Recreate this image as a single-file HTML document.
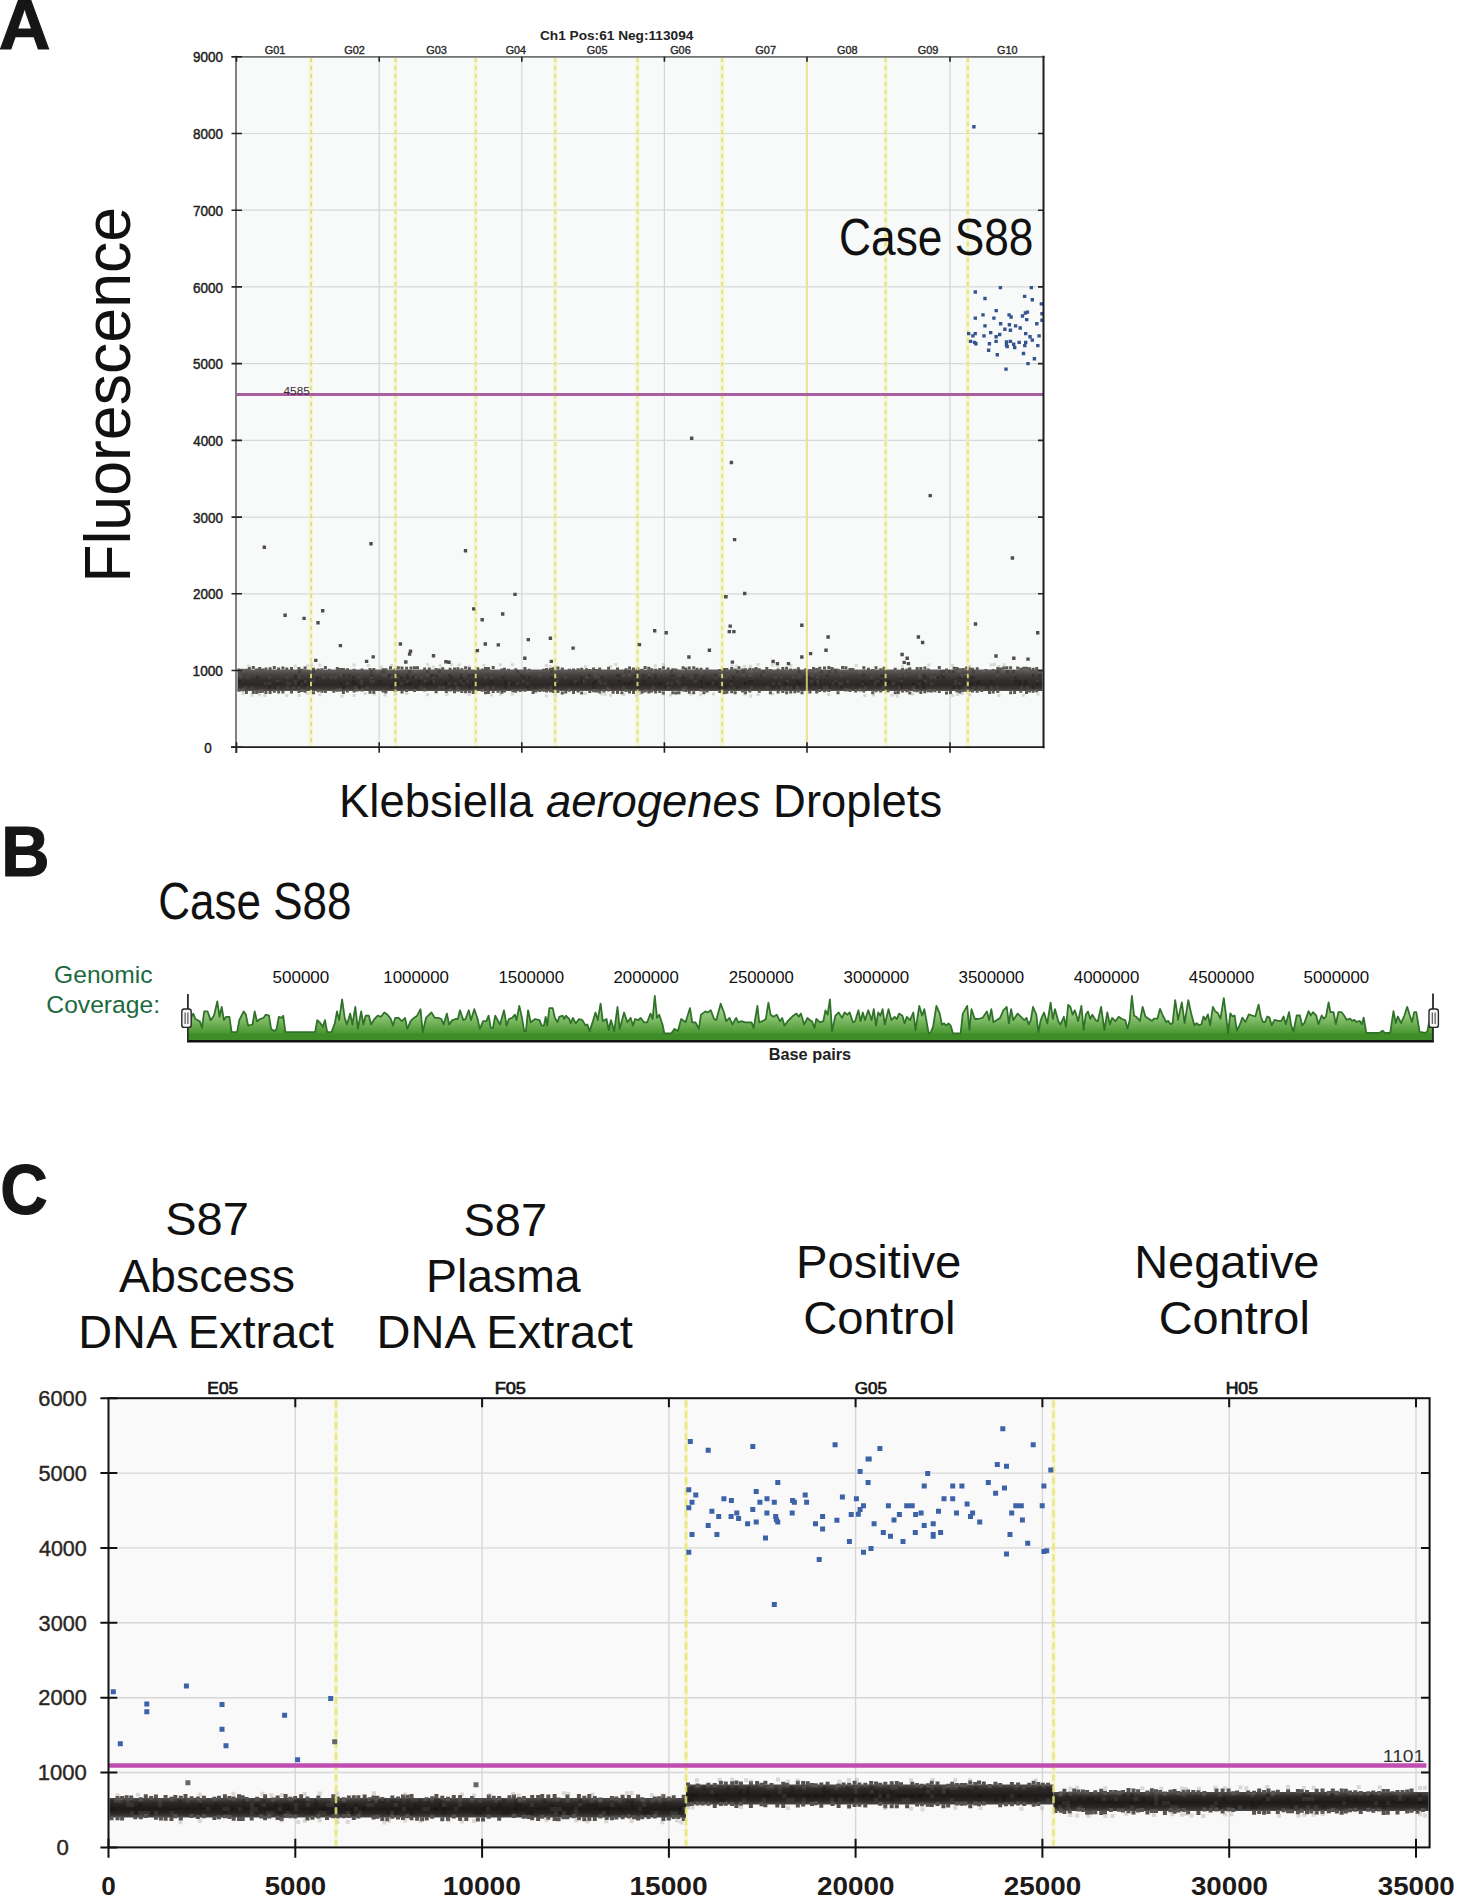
<!DOCTYPE html>
<html><head><meta charset="utf-8"><style>
html,body{margin:0;padding:0;background:#fff;overflow:hidden}
svg{display:block}
text{font-family:"Liberation Sans",sans-serif}
</style></head><body>
<svg width="1457" height="1896" viewBox="0 0 1457 1896" font-family="Liberation Sans, sans-serif">
<defs><linearGradient id="gA" x1="0" y1="0" x2="0" y2="1">
<stop offset="0" stop-color="#625e5c"/><stop offset="0.25" stop-color="#46423f"/>
<stop offset="0.5" stop-color="#332f2d"/><stop offset="0.72" stop-color="#2c2826"/>
<stop offset="0.9" stop-color="#3d3937"/><stop offset="1" stop-color="#58544f"/></linearGradient><linearGradient id="gB" x1="0" y1="998" x2="0" y2="1041" gradientUnits="userSpaceOnUse">
<stop offset="0" stop-color="#c4e3b6"/><stop offset="0.45" stop-color="#89c170"/><stop offset="0.8" stop-color="#4c9a33"/><stop offset="1" stop-color="#3a8a25"/></linearGradient><linearGradient id="gC" x1="0" y1="0" x2="0" y2="1">
<stop offset="0" stop-color="#4e4b49"/><stop offset="0.25" stop-color="#2c2a28"/>
<stop offset="0.55" stop-color="#1d1b1a"/><stop offset="0.8" stop-color="#2a2826"/><stop offset="1" stop-color="#4a4745"/></linearGradient></defs>
<rect width="1457" height="1896" fill="#fff"/>
<rect x="236.5" y="56.8" width="807.0" height="690.4000000000001" fill="#f7faf9"/>
<line x1="236.5" x2="1043.5" y1="670.5" y2="670.5" stroke="#d6d9d9" stroke-width="1.2"/>
<line x1="236.5" x2="1043.5" y1="593.8" y2="593.8" stroke="#d6d9d9" stroke-width="1.2"/>
<line x1="236.5" x2="1043.5" y1="517.1" y2="517.1" stroke="#d6d9d9" stroke-width="1.2"/>
<line x1="236.5" x2="1043.5" y1="440.4" y2="440.4" stroke="#d6d9d9" stroke-width="1.2"/>
<line x1="236.5" x2="1043.5" y1="363.6" y2="363.6" stroke="#d6d9d9" stroke-width="1.2"/>
<line x1="236.5" x2="1043.5" y1="286.9" y2="286.9" stroke="#d6d9d9" stroke-width="1.2"/>
<line x1="236.5" x2="1043.5" y1="210.2" y2="210.2" stroke="#d6d9d9" stroke-width="1.2"/>
<line x1="236.5" x2="1043.5" y1="133.5" y2="133.5" stroke="#d6d9d9" stroke-width="1.2"/>
<line x1="379.2" x2="379.2" y1="56.8" y2="747.2" stroke="#d3d6d6" stroke-width="1.2"/>
<line x1="521.8" x2="521.8" y1="56.8" y2="747.2" stroke="#d3d6d6" stroke-width="1.2"/>
<line x1="664.4" x2="664.4" y1="56.8" y2="747.2" stroke="#d3d6d6" stroke-width="1.2"/>
<line x1="807.0" x2="807.0" y1="56.8" y2="747.2" stroke="#d3d6d6" stroke-width="1.2"/>
<line x1="950.0" x2="950.0" y1="56.8" y2="747.2" stroke="#d3d6d6" stroke-width="1.2"/>
<line x1="311.0" x2="311.0" y1="57.8" y2="746.2" stroke="#f6f3b8" stroke-width="4.5" stroke-opacity="0.5"/>
<line x1="395.5" x2="395.5" y1="57.8" y2="746.2" stroke="#f6f3b8" stroke-width="4.5" stroke-opacity="0.5"/>
<line x1="475.7" x2="475.7" y1="57.8" y2="746.2" stroke="#f6f3b8" stroke-width="4.5" stroke-opacity="0.5"/>
<line x1="555.2" x2="555.2" y1="57.8" y2="746.2" stroke="#f6f3b8" stroke-width="4.5" stroke-opacity="0.5"/>
<line x1="637.5" x2="637.5" y1="57.8" y2="746.2" stroke="#f6f3b8" stroke-width="4.5" stroke-opacity="0.5"/>
<line x1="722.1" x2="722.1" y1="57.8" y2="746.2" stroke="#f6f3b8" stroke-width="4.5" stroke-opacity="0.5"/>
<line x1="885.6" x2="885.6" y1="57.8" y2="746.2" stroke="#f6f3b8" stroke-width="4.5" stroke-opacity="0.5"/>
<line x1="967.8" x2="967.8" y1="57.8" y2="746.2" stroke="#f6f3b8" stroke-width="4.5" stroke-opacity="0.5"/>
<rect x="237.5" y="669.5" width="805.0" height="21.5" fill="url(#gA)"/>
<path d="M237.5 668.5h3.0v3.0h-3.0zM237.5 688.7h3.0v3.0h-3.0zM241.3 668.8h3.0v3.0h-3.0zM241.3 688.6h3.0v3.0h-3.0zM244.9 668.7h3.0v3.0h-3.0zM244.9 691.0h3.0v3.0h-3.0zM247.9 667.1h3.0v3.0h-3.0zM251.8 666.1h3.0v3.0h-3.0zM251.8 691.1h3.0v3.0h-3.0zM255.1 668.6h3.0v3.0h-3.0zM255.1 690.9h3.0v3.0h-3.0zM258.2 667.1h3.0v3.0h-3.0zM258.2 690.1h3.0v3.0h-3.0zM261.0 668.4h3.0v3.0h-3.0zM261.0 689.8h3.0v3.0h-3.0zM264.4 667.6h3.0v3.0h-3.0zM264.4 690.9h3.0v3.0h-3.0zM268.6 667.3h3.0v3.0h-3.0zM268.6 691.1h3.0v3.0h-3.0zM272.8 666.1h3.0v3.0h-3.0zM272.8 689.8h3.0v3.0h-3.0zM277.1 667.5h3.0v3.0h-3.0zM277.1 690.5h3.0v3.0h-3.0zM281.4 666.4h3.0v3.0h-3.0zM281.4 690.6h3.0v3.0h-3.0zM285.3 667.6h3.0v3.0h-3.0zM290.0 667.0h3.0v3.0h-3.0zM290.0 690.6h3.0v3.0h-3.0zM297.4 667.0h3.0v3.0h-3.0zM297.4 689.9h3.0v3.0h-3.0zM300.4 668.8h3.0v3.0h-3.0zM300.4 688.9h3.0v3.0h-3.0zM303.6 666.4h3.0v3.0h-3.0zM303.6 689.8h3.0v3.0h-3.0zM312.0 667.8h3.0v3.0h-3.0zM312.0 691.2h3.0v3.0h-3.0zM316.7 668.5h3.0v3.0h-3.0zM316.7 689.2h3.0v3.0h-3.0zM320.4 668.2h3.0v3.0h-3.0zM320.4 689.8h3.0v3.0h-3.0zM323.9 666.1h3.0v3.0h-3.0zM323.9 690.0h3.0v3.0h-3.0zM327.9 668.8h3.0v3.0h-3.0zM332.3 689.7h3.0v3.0h-3.0zM335.8 667.1h3.0v3.0h-3.0zM335.8 688.7h3.0v3.0h-3.0zM338.9 668.0h3.0v3.0h-3.0zM338.9 688.5h3.0v3.0h-3.0zM341.9 667.9h3.0v3.0h-3.0zM341.9 691.1h3.0v3.0h-3.0zM345.9 668.2h3.0v3.0h-3.0zM345.9 689.6h3.0v3.0h-3.0zM352.6 668.7h3.0v3.0h-3.0zM352.6 689.5h3.0v3.0h-3.0zM355.8 688.6h3.0v3.0h-3.0zM360.5 668.6h3.0v3.0h-3.0zM360.5 688.6h3.0v3.0h-3.0zM368.5 667.9h3.0v3.0h-3.0zM368.5 690.8h3.0v3.0h-3.0zM372.3 668.0h3.0v3.0h-3.0zM372.3 690.9h3.0v3.0h-3.0zM381.5 668.3h3.0v3.0h-3.0zM381.5 689.6h3.0v3.0h-3.0zM384.3 668.2h3.0v3.0h-3.0zM384.3 690.6h3.0v3.0h-3.0zM389.0 666.2h3.0v3.0h-3.0zM393.7 668.3h3.0v3.0h-3.0zM393.7 689.1h3.0v3.0h-3.0zM396.8 666.3h3.0v3.0h-3.0zM400.5 666.6h3.0v3.0h-3.0zM400.5 690.5h3.0v3.0h-3.0zM405.1 666.7h3.0v3.0h-3.0zM405.1 689.0h3.0v3.0h-3.0zM409.5 666.6h3.0v3.0h-3.0zM413.0 666.2h3.0v3.0h-3.0zM413.0 689.0h3.0v3.0h-3.0zM416.0 666.3h3.0v3.0h-3.0zM423.1 667.4h3.0v3.0h-3.0zM423.1 688.5h3.0v3.0h-3.0zM427.8 667.4h3.0v3.0h-3.0zM434.6 668.1h3.0v3.0h-3.0zM434.6 690.3h3.0v3.0h-3.0zM437.8 668.6h3.0v3.0h-3.0zM441.2 667.2h3.0v3.0h-3.0zM444.8 690.1h3.0v3.0h-3.0zM448.6 667.7h3.0v3.0h-3.0zM448.6 688.5h3.0v3.0h-3.0zM453.0 667.6h3.0v3.0h-3.0zM453.0 690.2h3.0v3.0h-3.0zM456.4 667.3h3.0v3.0h-3.0zM456.4 688.8h3.0v3.0h-3.0zM460.3 668.2h3.0v3.0h-3.0zM460.3 690.0h3.0v3.0h-3.0zM464.1 666.3h3.0v3.0h-3.0zM464.1 690.3h3.0v3.0h-3.0zM467.9 666.9h3.0v3.0h-3.0zM467.9 690.1h3.0v3.0h-3.0zM471.6 691.1h3.0v3.0h-3.0zM476.3 667.3h3.0v3.0h-3.0zM480.8 668.6h3.0v3.0h-3.0zM480.8 688.7h3.0v3.0h-3.0zM484.0 667.0h3.0v3.0h-3.0zM484.0 691.2h3.0v3.0h-3.0zM487.0 667.0h3.0v3.0h-3.0zM487.0 691.1h3.0v3.0h-3.0zM491.7 666.1h3.0v3.0h-3.0zM491.7 690.0h3.0v3.0h-3.0zM496.5 689.8h3.0v3.0h-3.0zM500.3 668.4h3.0v3.0h-3.0zM500.3 690.7h3.0v3.0h-3.0zM503.0 667.7h3.0v3.0h-3.0zM503.0 689.5h3.0v3.0h-3.0zM507.0 668.8h3.0v3.0h-3.0zM511.4 689.3h3.0v3.0h-3.0zM514.2 668.2h3.0v3.0h-3.0zM514.2 689.8h3.0v3.0h-3.0zM518.8 688.9h3.0v3.0h-3.0zM523.4 666.9h3.0v3.0h-3.0zM523.4 688.7h3.0v3.0h-3.0zM527.6 668.8h3.0v3.0h-3.0zM531.6 691.1h3.0v3.0h-3.0zM534.4 689.5h3.0v3.0h-3.0zM538.3 688.9h3.0v3.0h-3.0zM542.1 668.7h3.0v3.0h-3.0zM542.1 688.7h3.0v3.0h-3.0zM545.2 668.1h3.0v3.0h-3.0zM545.2 689.4h3.0v3.0h-3.0zM549.0 668.0h3.0v3.0h-3.0zM549.0 689.3h3.0v3.0h-3.0zM551.7 667.3h3.0v3.0h-3.0zM551.7 689.9h3.0v3.0h-3.0zM556.4 666.5h3.0v3.0h-3.0zM556.4 690.0h3.0v3.0h-3.0zM560.8 667.5h3.0v3.0h-3.0zM560.8 691.4h3.0v3.0h-3.0zM564.2 690.4h3.0v3.0h-3.0zM567.8 668.8h3.0v3.0h-3.0zM567.8 688.7h3.0v3.0h-3.0zM572.0 668.5h3.0v3.0h-3.0zM572.0 691.0h3.0v3.0h-3.0zM576.6 668.2h3.0v3.0h-3.0zM576.6 689.4h3.0v3.0h-3.0zM580.2 667.7h3.0v3.0h-3.0zM580.2 691.4h3.0v3.0h-3.0zM585.0 668.3h3.0v3.0h-3.0zM588.3 669.0h3.0v3.0h-3.0zM588.3 689.9h3.0v3.0h-3.0zM592.1 667.5h3.0v3.0h-3.0zM592.1 689.3h3.0v3.0h-3.0zM595.0 668.9h3.0v3.0h-3.0zM595.0 689.4h3.0v3.0h-3.0zM598.2 667.4h3.0v3.0h-3.0zM598.2 690.5h3.0v3.0h-3.0zM602.4 689.5h3.0v3.0h-3.0zM607.1 666.8h3.0v3.0h-3.0zM607.1 688.6h3.0v3.0h-3.0zM611.6 690.7h3.0v3.0h-3.0zM616.0 667.4h3.0v3.0h-3.0zM616.0 691.0h3.0v3.0h-3.0zM620.4 691.2h3.0v3.0h-3.0zM624.5 668.3h3.0v3.0h-3.0zM624.5 688.9h3.0v3.0h-3.0zM628.0 666.5h3.0v3.0h-3.0zM628.0 690.4h3.0v3.0h-3.0zM632.0 667.5h3.0v3.0h-3.0zM632.0 690.9h3.0v3.0h-3.0zM636.3 667.4h3.0v3.0h-3.0zM636.3 688.7h3.0v3.0h-3.0zM640.5 668.8h3.0v3.0h-3.0zM640.5 690.7h3.0v3.0h-3.0zM643.6 666.1h3.0v3.0h-3.0zM643.6 689.6h3.0v3.0h-3.0zM647.3 666.7h3.0v3.0h-3.0zM647.3 690.4h3.0v3.0h-3.0zM650.2 668.2h3.0v3.0h-3.0zM650.2 689.4h3.0v3.0h-3.0zM654.1 668.8h3.0v3.0h-3.0zM654.1 690.5h3.0v3.0h-3.0zM658.3 668.1h3.0v3.0h-3.0zM658.3 689.9h3.0v3.0h-3.0zM661.9 666.3h3.0v3.0h-3.0zM661.9 691.4h3.0v3.0h-3.0zM666.6 667.6h3.0v3.0h-3.0zM671.3 668.2h3.0v3.0h-3.0zM671.3 691.3h3.0v3.0h-3.0zM674.5 668.6h3.0v3.0h-3.0zM674.5 691.4h3.0v3.0h-3.0zM677.5 691.2h3.0v3.0h-3.0zM681.6 666.3h3.0v3.0h-3.0zM681.6 688.6h3.0v3.0h-3.0zM684.3 667.6h3.0v3.0h-3.0zM684.3 688.9h3.0v3.0h-3.0zM687.8 666.5h3.0v3.0h-3.0zM687.8 690.8h3.0v3.0h-3.0zM692.2 666.2h3.0v3.0h-3.0zM692.2 691.2h3.0v3.0h-3.0zM695.5 667.8h3.0v3.0h-3.0zM699.5 667.7h3.0v3.0h-3.0zM699.5 688.6h3.0v3.0h-3.0zM702.4 691.3h3.0v3.0h-3.0zM705.6 667.5h3.0v3.0h-3.0zM705.6 689.6h3.0v3.0h-3.0zM718.2 668.9h3.0v3.0h-3.0zM718.2 689.9h3.0v3.0h-3.0zM722.5 668.1h3.0v3.0h-3.0zM722.5 691.3h3.0v3.0h-3.0zM725.4 668.0h3.0v3.0h-3.0zM725.4 690.7h3.0v3.0h-3.0zM730.2 667.0h3.0v3.0h-3.0zM730.2 690.2h3.0v3.0h-3.0zM733.7 668.5h3.0v3.0h-3.0zM733.7 691.2h3.0v3.0h-3.0zM737.5 666.3h3.0v3.0h-3.0zM741.1 668.4h3.0v3.0h-3.0zM741.1 689.5h3.0v3.0h-3.0zM744.0 668.2h3.0v3.0h-3.0zM744.0 691.2h3.0v3.0h-3.0zM748.3 667.8h3.0v3.0h-3.0zM748.3 689.6h3.0v3.0h-3.0zM751.7 668.2h3.0v3.0h-3.0zM754.6 667.1h3.0v3.0h-3.0zM757.8 668.3h3.0v3.0h-3.0zM757.8 689.8h3.0v3.0h-3.0zM765.3 666.9h3.0v3.0h-3.0zM768.9 669.0h3.0v3.0h-3.0zM768.9 691.3h3.0v3.0h-3.0zM776.6 668.5h3.0v3.0h-3.0zM776.6 690.5h3.0v3.0h-3.0zM781.3 667.1h3.0v3.0h-3.0zM781.3 689.9h3.0v3.0h-3.0zM785.1 666.7h3.0v3.0h-3.0zM785.1 691.3h3.0v3.0h-3.0zM789.2 668.6h3.0v3.0h-3.0zM789.2 690.4h3.0v3.0h-3.0zM793.4 668.8h3.0v3.0h-3.0zM793.4 690.2h3.0v3.0h-3.0zM796.9 667.2h3.0v3.0h-3.0zM796.9 689.4h3.0v3.0h-3.0zM800.5 691.2h3.0v3.0h-3.0zM804.2 668.3h3.0v3.0h-3.0zM808.4 668.9h3.0v3.0h-3.0zM808.4 690.5h3.0v3.0h-3.0zM812.0 667.0h3.0v3.0h-3.0zM815.2 668.0h3.0v3.0h-3.0zM815.2 690.5h3.0v3.0h-3.0zM818.3 666.8h3.0v3.0h-3.0zM818.3 689.1h3.0v3.0h-3.0zM823.0 666.5h3.0v3.0h-3.0zM823.0 689.2h3.0v3.0h-3.0zM827.3 666.1h3.0v3.0h-3.0zM827.3 689.1h3.0v3.0h-3.0zM830.5 667.0h3.0v3.0h-3.0zM833.5 668.4h3.0v3.0h-3.0zM836.5 668.8h3.0v3.0h-3.0zM836.5 691.2h3.0v3.0h-3.0zM841.1 666.0h3.0v3.0h-3.0zM844.4 666.2h3.0v3.0h-3.0zM844.4 688.6h3.0v3.0h-3.0zM848.5 667.9h3.0v3.0h-3.0zM848.5 689.0h3.0v3.0h-3.0zM851.3 667.9h3.0v3.0h-3.0zM854.2 689.6h3.0v3.0h-3.0zM858.6 688.6h3.0v3.0h-3.0zM862.3 666.2h3.0v3.0h-3.0zM862.3 689.6h3.0v3.0h-3.0zM866.9 667.8h3.0v3.0h-3.0zM871.2 668.9h3.0v3.0h-3.0zM871.2 691.3h3.0v3.0h-3.0zM874.5 666.3h3.0v3.0h-3.0zM874.5 689.3h3.0v3.0h-3.0zM879.2 668.2h3.0v3.0h-3.0zM879.2 689.4h3.0v3.0h-3.0zM882.5 666.7h3.0v3.0h-3.0zM886.5 689.2h3.0v3.0h-3.0zM893.7 667.7h3.0v3.0h-3.0zM893.7 691.3h3.0v3.0h-3.0zM896.8 691.0h3.0v3.0h-3.0zM901.1 668.0h3.0v3.0h-3.0zM901.1 689.6h3.0v3.0h-3.0zM905.4 668.4h3.0v3.0h-3.0zM905.4 689.2h3.0v3.0h-3.0zM908.3 667.3h3.0v3.0h-3.0zM908.3 691.4h3.0v3.0h-3.0zM912.8 688.8h3.0v3.0h-3.0zM915.7 666.9h3.0v3.0h-3.0zM915.7 689.2h3.0v3.0h-3.0zM919.3 667.0h3.0v3.0h-3.0zM919.3 691.0h3.0v3.0h-3.0zM923.4 666.5h3.0v3.0h-3.0zM923.4 690.2h3.0v3.0h-3.0zM926.9 668.4h3.0v3.0h-3.0zM926.9 689.2h3.0v3.0h-3.0zM929.9 689.5h3.0v3.0h-3.0zM933.4 689.2h3.0v3.0h-3.0zM937.8 666.0h3.0v3.0h-3.0zM937.8 689.9h3.0v3.0h-3.0zM945.0 668.6h3.0v3.0h-3.0zM945.0 691.4h3.0v3.0h-3.0zM949.0 691.1h3.0v3.0h-3.0zM952.6 666.7h3.0v3.0h-3.0zM955.5 667.1h3.0v3.0h-3.0zM955.5 689.6h3.0v3.0h-3.0zM958.5 668.2h3.0v3.0h-3.0zM958.5 690.5h3.0v3.0h-3.0zM961.7 668.0h3.0v3.0h-3.0zM961.7 689.1h3.0v3.0h-3.0zM965.0 666.6h3.0v3.0h-3.0zM965.0 688.7h3.0v3.0h-3.0zM967.9 667.3h3.0v3.0h-3.0zM967.9 688.8h3.0v3.0h-3.0zM971.0 667.8h3.0v3.0h-3.0zM971.0 689.4h3.0v3.0h-3.0zM975.7 667.3h3.0v3.0h-3.0zM975.7 689.7h3.0v3.0h-3.0zM980.2 689.1h3.0v3.0h-3.0zM984.4 669.0h3.0v3.0h-3.0zM988.0 691.1h3.0v3.0h-3.0zM991.7 669.0h3.0v3.0h-3.0zM991.7 690.4h3.0v3.0h-3.0zM996.3 667.1h3.0v3.0h-3.0zM996.3 690.0h3.0v3.0h-3.0zM999.3 667.4h3.0v3.0h-3.0zM1002.2 666.6h3.0v3.0h-3.0zM1005.3 666.2h3.0v3.0h-3.0zM1009.1 666.2h3.0v3.0h-3.0zM1009.1 691.2h3.0v3.0h-3.0zM1013.1 690.9h3.0v3.0h-3.0zM1016.2 666.5h3.0v3.0h-3.0zM1019.3 667.8h3.0v3.0h-3.0zM1019.3 689.7h3.0v3.0h-3.0zM1022.3 666.8h3.0v3.0h-3.0zM1025.0 666.7h3.0v3.0h-3.0zM1025.0 691.0h3.0v3.0h-3.0zM1028.0 667.3h3.0v3.0h-3.0zM1028.0 689.4h3.0v3.0h-3.0zM1031.6 667.7h3.0v3.0h-3.0zM1031.6 689.8h3.0v3.0h-3.0zM1035.2 667.1h3.0v3.0h-3.0zM1035.2 689.2h3.0v3.0h-3.0z" fill="#5b5755"/>
<path d="M241.6 692.3h3.0v3.0h-3.0zM247.2 664.4h3.0v3.0h-3.0zM250.4 693.8h3.0v3.0h-3.0zM258.1 693.3h3.0v3.0h-3.0zM263.3 694.1h3.0v3.0h-3.0zM285.2 694.0h3.0v3.0h-3.0zM293.8 664.6h3.0v3.0h-3.0zM297.8 694.0h3.0v3.0h-3.0zM305.9 664.2h3.0v3.0h-3.0zM305.9 692.1h3.0v3.0h-3.0zM310.0 663.2h3.0v3.0h-3.0zM318.3 663.5h3.0v3.0h-3.0zM318.3 693.3h3.0v3.0h-3.0zM340.5 694.5h3.0v3.0h-3.0zM352.6 663.6h3.0v3.0h-3.0zM352.6 694.0h3.0v3.0h-3.0zM363.6 692.0h3.0v3.0h-3.0zM366.8 664.0h3.0v3.0h-3.0zM372.9 692.6h3.0v3.0h-3.0zM379.8 665.5h3.0v3.0h-3.0zM383.5 693.5h3.0v3.0h-3.0zM390.0 663.9h3.0v3.0h-3.0zM393.8 692.4h3.0v3.0h-3.0zM405.1 692.0h3.0v3.0h-3.0zM426.2 663.2h3.0v3.0h-3.0zM426.2 693.3h3.0v3.0h-3.0zM431.7 665.4h3.0v3.0h-3.0zM438.6 664.0h3.0v3.0h-3.0zM445.4 692.8h3.0v3.0h-3.0zM450.2 663.3h3.0v3.0h-3.0zM457.5 663.4h3.0v3.0h-3.0zM467.7 664.9h3.0v3.0h-3.0zM467.7 692.8h3.0v3.0h-3.0zM482.4 664.1h3.0v3.0h-3.0zM490.2 693.6h3.0v3.0h-3.0zM499.0 663.3h3.0v3.0h-3.0zM499.0 692.7h3.0v3.0h-3.0zM510.9 663.3h3.0v3.0h-3.0zM510.9 692.6h3.0v3.0h-3.0zM544.8 663.9h3.0v3.0h-3.0zM544.8 694.3h3.0v3.0h-3.0zM548.7 665.2h3.0v3.0h-3.0zM553.7 665.4h3.0v3.0h-3.0zM553.7 693.7h3.0v3.0h-3.0zM583.9 665.0h3.0v3.0h-3.0zM583.9 692.1h3.0v3.0h-3.0zM599.9 692.2h3.0v3.0h-3.0zM603.5 692.8h3.0v3.0h-3.0zM609.1 664.9h3.0v3.0h-3.0zM609.1 693.8h3.0v3.0h-3.0zM614.3 663.1h3.0v3.0h-3.0zM622.4 693.0h3.0v3.0h-3.0zM635.2 694.2h3.0v3.0h-3.0zM638.8 692.0h3.0v3.0h-3.0zM653.8 664.3h3.0v3.0h-3.0zM661.8 663.1h3.0v3.0h-3.0zM661.8 692.5h3.0v3.0h-3.0zM669.0 693.6h3.0v3.0h-3.0zM689.1 692.5h3.0v3.0h-3.0zM699.0 693.2h3.0v3.0h-3.0zM712.0 692.4h3.0v3.0h-3.0zM730.6 664.3h3.0v3.0h-3.0zM735.0 664.7h3.0v3.0h-3.0zM743.1 665.1h3.0v3.0h-3.0zM743.1 692.8h3.0v3.0h-3.0zM749.2 664.7h3.0v3.0h-3.0zM749.2 694.4h3.0v3.0h-3.0zM756.6 663.1h3.0v3.0h-3.0zM756.6 693.0h3.0v3.0h-3.0zM771.1 663.9h3.0v3.0h-3.0zM771.1 692.5h3.0v3.0h-3.0zM776.4 664.5h3.0v3.0h-3.0zM789.4 664.0h3.0v3.0h-3.0zM827.2 693.0h3.0v3.0h-3.0zM854.7 663.9h3.0v3.0h-3.0zM863.3 694.0h3.0v3.0h-3.0zM871.9 693.4h3.0v3.0h-3.0zM890.5 693.7h3.0v3.0h-3.0zM895.8 694.5h3.0v3.0h-3.0zM901.0 664.8h3.0v3.0h-3.0zM911.2 692.6h3.0v3.0h-3.0zM927.3 663.6h3.0v3.0h-3.0zM951.1 664.1h3.0v3.0h-3.0zM951.1 694.1h3.0v3.0h-3.0zM956.2 692.9h3.0v3.0h-3.0zM960.7 692.0h3.0v3.0h-3.0zM968.1 664.9h3.0v3.0h-3.0zM968.1 693.2h3.0v3.0h-3.0zM989.8 663.4h3.0v3.0h-3.0zM992.9 663.1h3.0v3.0h-3.0zM997.4 665.1h3.0v3.0h-3.0zM997.4 693.9h3.0v3.0h-3.0zM1002.5 663.2h3.0v3.0h-3.0zM1021.9 693.7h3.0v3.0h-3.0zM1036.4 692.6h3.0v3.0h-3.0z" fill="#8d8a88" opacity="0.3"/>
<path d="M238 674h3.0v3.0h-3.0zM240 676h3.0v3.0h-3.0zM244 686h3.0v3.0h-3.0zM246 676h3.0v3.0h-3.0zM250 686h3.0v3.0h-3.0zM264 682h3.0v3.0h-3.0zM268 676h3.0v3.0h-3.0zM268 682h3.0v3.0h-3.0zM276 680h3.0v3.0h-3.0zM276 686h3.0v3.0h-3.0zM286 676h3.0v3.0h-3.0zM286 682h3.0v3.0h-3.0zM286 686h3.0v3.0h-3.0zM288 682h3.0v3.0h-3.0zM292 686h3.0v3.0h-3.0zM294 680h3.0v3.0h-3.0zM294 682h3.0v3.0h-3.0zM298 676h3.0v3.0h-3.0zM298 686h3.0v3.0h-3.0zM300 682h3.0v3.0h-3.0zM304 680h3.0v3.0h-3.0zM306 686h3.0v3.0h-3.0zM310 670h3.0v3.0h-3.0zM310 680h3.0v3.0h-3.0zM312 680h3.0v3.0h-3.0zM322 676h3.0v3.0h-3.0zM330 676h3.0v3.0h-3.0zM334 676h3.0v3.0h-3.0zM340 674h3.0v3.0h-3.0zM346 682h3.0v3.0h-3.0zM354 686h3.0v3.0h-3.0zM358 676h3.0v3.0h-3.0zM360 680h3.0v3.0h-3.0zM360 682h3.0v3.0h-3.0zM366 686h3.0v3.0h-3.0zM370 676h3.0v3.0h-3.0zM370 680h3.0v3.0h-3.0zM372 680h3.0v3.0h-3.0zM376 670h3.0v3.0h-3.0zM382 674h3.0v3.0h-3.0zM384 674h3.0v3.0h-3.0zM388 670h3.0v3.0h-3.0zM390 676h3.0v3.0h-3.0zM394 686h3.0v3.0h-3.0zM396 676h3.0v3.0h-3.0zM400 682h3.0v3.0h-3.0zM406 680h3.0v3.0h-3.0zM414 670h3.0v3.0h-3.0zM414 676h3.0v3.0h-3.0zM420 676h3.0v3.0h-3.0zM420 686h3.0v3.0h-3.0zM424 680h3.0v3.0h-3.0zM426 674h3.0v3.0h-3.0zM432 676h3.0v3.0h-3.0zM432 680h3.0v3.0h-3.0zM438 674h3.0v3.0h-3.0zM438 686h3.0v3.0h-3.0zM442 686h3.0v3.0h-3.0zM448 682h3.0v3.0h-3.0zM454 682h3.0v3.0h-3.0zM456 686h3.0v3.0h-3.0zM460 680h3.0v3.0h-3.0zM462 670h3.0v3.0h-3.0zM462 674h3.0v3.0h-3.0zM462 682h3.0v3.0h-3.0zM466 680h3.0v3.0h-3.0zM468 670h3.0v3.0h-3.0zM484 676h3.0v3.0h-3.0zM486 686h3.0v3.0h-3.0zM490 676h3.0v3.0h-3.0zM492 686h3.0v3.0h-3.0zM508 682h3.0v3.0h-3.0zM516 682h3.0v3.0h-3.0zM522 680h3.0v3.0h-3.0zM526 670h3.0v3.0h-3.0zM526 682h3.0v3.0h-3.0zM538 674h3.0v3.0h-3.0zM550 686h3.0v3.0h-3.0zM556 676h3.0v3.0h-3.0zM556 680h3.0v3.0h-3.0zM564 676h3.0v3.0h-3.0zM574 680h3.0v3.0h-3.0zM582 680h3.0v3.0h-3.0zM586 676h3.0v3.0h-3.0zM594 674h3.0v3.0h-3.0zM594 676h3.0v3.0h-3.0zM598 676h3.0v3.0h-3.0zM598 680h3.0v3.0h-3.0zM600 682h3.0v3.0h-3.0zM604 682h3.0v3.0h-3.0zM606 686h3.0v3.0h-3.0zM622 674h3.0v3.0h-3.0zM622 686h3.0v3.0h-3.0zM628 674h3.0v3.0h-3.0zM630 670h3.0v3.0h-3.0zM648 674h3.0v3.0h-3.0zM652 670h3.0v3.0h-3.0zM652 686h3.0v3.0h-3.0zM660 670h3.0v3.0h-3.0zM666 670h3.0v3.0h-3.0zM666 682h3.0v3.0h-3.0zM666 686h3.0v3.0h-3.0zM670 682h3.0v3.0h-3.0zM676 680h3.0v3.0h-3.0zM678 674h3.0v3.0h-3.0zM678 682h3.0v3.0h-3.0zM682 670h3.0v3.0h-3.0zM682 686h3.0v3.0h-3.0zM684 686h3.0v3.0h-3.0zM690 676h3.0v3.0h-3.0zM694 680h3.0v3.0h-3.0zM700 670h3.0v3.0h-3.0zM712 682h3.0v3.0h-3.0zM714 676h3.0v3.0h-3.0zM718 674h3.0v3.0h-3.0zM720 670h3.0v3.0h-3.0zM720 674h3.0v3.0h-3.0zM720 682h3.0v3.0h-3.0zM724 676h3.0v3.0h-3.0zM726 674h3.0v3.0h-3.0zM730 682h3.0v3.0h-3.0zM742 674h3.0v3.0h-3.0zM748 674h3.0v3.0h-3.0zM750 670h3.0v3.0h-3.0zM750 674h3.0v3.0h-3.0zM750 686h3.0v3.0h-3.0zM762 674h3.0v3.0h-3.0zM766 686h3.0v3.0h-3.0zM772 682h3.0v3.0h-3.0zM774 676h3.0v3.0h-3.0zM778 682h3.0v3.0h-3.0zM780 676h3.0v3.0h-3.0zM780 686h3.0v3.0h-3.0zM786 670h3.0v3.0h-3.0zM786 680h3.0v3.0h-3.0zM786 686h3.0v3.0h-3.0zM790 686h3.0v3.0h-3.0zM792 676h3.0v3.0h-3.0zM796 686h3.0v3.0h-3.0zM798 676h3.0v3.0h-3.0zM810 674h3.0v3.0h-3.0zM810 680h3.0v3.0h-3.0zM814 670h3.0v3.0h-3.0zM816 676h3.0v3.0h-3.0zM816 680h3.0v3.0h-3.0zM816 682h3.0v3.0h-3.0zM822 686h3.0v3.0h-3.0zM826 686h3.0v3.0h-3.0zM832 682h3.0v3.0h-3.0zM834 680h3.0v3.0h-3.0zM838 682h3.0v3.0h-3.0zM840 674h3.0v3.0h-3.0zM840 682h3.0v3.0h-3.0zM846 680h3.0v3.0h-3.0zM858 670h3.0v3.0h-3.0zM862 682h3.0v3.0h-3.0zM864 686h3.0v3.0h-3.0zM870 676h3.0v3.0h-3.0zM874 682h3.0v3.0h-3.0zM876 680h3.0v3.0h-3.0zM882 686h3.0v3.0h-3.0zM892 682h3.0v3.0h-3.0zM894 670h3.0v3.0h-3.0zM898 674h3.0v3.0h-3.0zM898 686h3.0v3.0h-3.0zM900 680h3.0v3.0h-3.0zM904 674h3.0v3.0h-3.0zM912 686h3.0v3.0h-3.0zM918 674h3.0v3.0h-3.0zM918 676h3.0v3.0h-3.0zM918 682h3.0v3.0h-3.0zM924 680h3.0v3.0h-3.0zM930 676h3.0v3.0h-3.0zM930 682h3.0v3.0h-3.0zM934 676h3.0v3.0h-3.0zM954 680h3.0v3.0h-3.0zM954 682h3.0v3.0h-3.0zM958 670h3.0v3.0h-3.0zM958 682h3.0v3.0h-3.0zM960 674h3.0v3.0h-3.0zM964 674h3.0v3.0h-3.0zM964 686h3.0v3.0h-3.0zM966 680h3.0v3.0h-3.0zM966 682h3.0v3.0h-3.0zM972 686h3.0v3.0h-3.0zM978 686h3.0v3.0h-3.0zM982 670h3.0v3.0h-3.0zM982 686h3.0v3.0h-3.0zM990 686h3.0v3.0h-3.0zM996 674h3.0v3.0h-3.0zM996 686h3.0v3.0h-3.0zM1002 670h3.0v3.0h-3.0zM1020 686h3.0v3.0h-3.0zM1026 670h3.0v3.0h-3.0zM1026 686h3.0v3.0h-3.0zM1036 680h3.0v3.0h-3.0zM1038 670h3.0v3.0h-3.0z" fill="#8a8684" opacity="0.16"/>
<path d="M238 680h3.0v3.0h-3.0zM256 676h3.0v3.0h-3.0zM268 686h3.0v3.0h-3.0zM274 686h3.0v3.0h-3.0zM276 682h3.0v3.0h-3.0zM294 674h3.0v3.0h-3.0zM294 676h3.0v3.0h-3.0zM298 670h3.0v3.0h-3.0zM298 682h3.0v3.0h-3.0zM300 680h3.0v3.0h-3.0zM312 670h3.0v3.0h-3.0zM316 676h3.0v3.0h-3.0zM340 682h3.0v3.0h-3.0zM342 674h3.0v3.0h-3.0zM342 686h3.0v3.0h-3.0zM348 674h3.0v3.0h-3.0zM352 676h3.0v3.0h-3.0zM352 680h3.0v3.0h-3.0zM352 682h3.0v3.0h-3.0zM354 682h3.0v3.0h-3.0zM358 686h3.0v3.0h-3.0zM370 670h3.0v3.0h-3.0zM370 674h3.0v3.0h-3.0zM378 680h3.0v3.0h-3.0zM382 670h3.0v3.0h-3.0zM388 674h3.0v3.0h-3.0zM390 686h3.0v3.0h-3.0zM394 674h3.0v3.0h-3.0zM394 676h3.0v3.0h-3.0zM394 680h3.0v3.0h-3.0zM396 674h3.0v3.0h-3.0zM396 682h3.0v3.0h-3.0zM400 676h3.0v3.0h-3.0zM406 674h3.0v3.0h-3.0zM406 676h3.0v3.0h-3.0zM408 670h3.0v3.0h-3.0zM408 682h3.0v3.0h-3.0zM412 676h3.0v3.0h-3.0zM414 686h3.0v3.0h-3.0zM418 680h3.0v3.0h-3.0zM426 670h3.0v3.0h-3.0zM426 682h3.0v3.0h-3.0zM430 674h3.0v3.0h-3.0zM430 680h3.0v3.0h-3.0zM430 682h3.0v3.0h-3.0zM432 674h3.0v3.0h-3.0zM436 674h3.0v3.0h-3.0zM438 670h3.0v3.0h-3.0zM444 682h3.0v3.0h-3.0zM448 674h3.0v3.0h-3.0zM450 676h3.0v3.0h-3.0zM460 674h3.0v3.0h-3.0zM460 676h3.0v3.0h-3.0zM462 680h3.0v3.0h-3.0zM468 674h3.0v3.0h-3.0zM468 686h3.0v3.0h-3.0zM472 674h3.0v3.0h-3.0zM472 682h3.0v3.0h-3.0zM474 674h3.0v3.0h-3.0zM490 680h3.0v3.0h-3.0zM502 676h3.0v3.0h-3.0zM504 680h3.0v3.0h-3.0zM504 682h3.0v3.0h-3.0zM504 686h3.0v3.0h-3.0zM510 682h3.0v3.0h-3.0zM516 670h3.0v3.0h-3.0zM520 674h3.0v3.0h-3.0zM522 676h3.0v3.0h-3.0zM526 686h3.0v3.0h-3.0zM528 676h3.0v3.0h-3.0zM534 686h3.0v3.0h-3.0zM550 670h3.0v3.0h-3.0zM550 676h3.0v3.0h-3.0zM552 686h3.0v3.0h-3.0zM570 682h3.0v3.0h-3.0zM576 682h3.0v3.0h-3.0zM580 676h3.0v3.0h-3.0zM580 680h3.0v3.0h-3.0zM588 674h3.0v3.0h-3.0zM592 682h3.0v3.0h-3.0zM592 686h3.0v3.0h-3.0zM594 680h3.0v3.0h-3.0zM600 676h3.0v3.0h-3.0zM616 674h3.0v3.0h-3.0zM618 674h3.0v3.0h-3.0zM618 680h3.0v3.0h-3.0zM624 670h3.0v3.0h-3.0zM624 682h3.0v3.0h-3.0zM628 670h3.0v3.0h-3.0zM628 682h3.0v3.0h-3.0zM630 680h3.0v3.0h-3.0zM634 674h3.0v3.0h-3.0zM636 670h3.0v3.0h-3.0zM636 680h3.0v3.0h-3.0zM636 686h3.0v3.0h-3.0zM642 674h3.0v3.0h-3.0zM642 680h3.0v3.0h-3.0zM648 676h3.0v3.0h-3.0zM654 674h3.0v3.0h-3.0zM654 676h3.0v3.0h-3.0zM658 682h3.0v3.0h-3.0zM664 686h3.0v3.0h-3.0zM670 670h3.0v3.0h-3.0zM670 674h3.0v3.0h-3.0zM672 674h3.0v3.0h-3.0zM682 676h3.0v3.0h-3.0zM694 674h3.0v3.0h-3.0zM700 680h3.0v3.0h-3.0zM700 686h3.0v3.0h-3.0zM702 676h3.0v3.0h-3.0zM706 682h3.0v3.0h-3.0zM708 682h3.0v3.0h-3.0zM714 674h3.0v3.0h-3.0zM714 682h3.0v3.0h-3.0zM718 686h3.0v3.0h-3.0zM724 686h3.0v3.0h-3.0zM730 680h3.0v3.0h-3.0zM732 676h3.0v3.0h-3.0zM736 670h3.0v3.0h-3.0zM736 686h3.0v3.0h-3.0zM742 670h3.0v3.0h-3.0zM744 682h3.0v3.0h-3.0zM748 680h3.0v3.0h-3.0zM750 680h3.0v3.0h-3.0zM760 674h3.0v3.0h-3.0zM762 670h3.0v3.0h-3.0zM772 686h3.0v3.0h-3.0zM778 686h3.0v3.0h-3.0zM784 682h3.0v3.0h-3.0zM792 686h3.0v3.0h-3.0zM796 680h3.0v3.0h-3.0zM798 670h3.0v3.0h-3.0zM798 682h3.0v3.0h-3.0zM804 676h3.0v3.0h-3.0zM808 676h3.0v3.0h-3.0zM814 682h3.0v3.0h-3.0zM820 670h3.0v3.0h-3.0zM820 686h3.0v3.0h-3.0zM826 674h3.0v3.0h-3.0zM828 670h3.0v3.0h-3.0zM828 686h3.0v3.0h-3.0zM834 670h3.0v3.0h-3.0zM834 682h3.0v3.0h-3.0zM840 686h3.0v3.0h-3.0zM862 674h3.0v3.0h-3.0zM862 680h3.0v3.0h-3.0zM864 682h3.0v3.0h-3.0zM870 680h3.0v3.0h-3.0zM876 682h3.0v3.0h-3.0zM880 674h3.0v3.0h-3.0zM880 680h3.0v3.0h-3.0zM882 674h3.0v3.0h-3.0zM886 680h3.0v3.0h-3.0zM886 682h3.0v3.0h-3.0zM888 680h3.0v3.0h-3.0zM900 682h3.0v3.0h-3.0zM900 686h3.0v3.0h-3.0zM912 682h3.0v3.0h-3.0zM916 686h3.0v3.0h-3.0zM918 680h3.0v3.0h-3.0zM922 674h3.0v3.0h-3.0zM922 682h3.0v3.0h-3.0zM922 686h3.0v3.0h-3.0zM924 676h3.0v3.0h-3.0zM936 676h3.0v3.0h-3.0zM940 670h3.0v3.0h-3.0zM940 674h3.0v3.0h-3.0zM942 670h3.0v3.0h-3.0zM942 676h3.0v3.0h-3.0zM948 670h3.0v3.0h-3.0zM952 670h3.0v3.0h-3.0zM952 686h3.0v3.0h-3.0zM958 676h3.0v3.0h-3.0zM958 686h3.0v3.0h-3.0zM964 676h3.0v3.0h-3.0zM966 674h3.0v3.0h-3.0zM970 676h3.0v3.0h-3.0zM970 682h3.0v3.0h-3.0zM972 670h3.0v3.0h-3.0zM972 676h3.0v3.0h-3.0zM976 682h3.0v3.0h-3.0zM978 680h3.0v3.0h-3.0zM990 680h3.0v3.0h-3.0zM996 670h3.0v3.0h-3.0zM1006 670h3.0v3.0h-3.0zM1012 670h3.0v3.0h-3.0zM1014 676h3.0v3.0h-3.0zM1014 680h3.0v3.0h-3.0zM1018 680h3.0v3.0h-3.0zM1018 682h3.0v3.0h-3.0zM1024 680h3.0v3.0h-3.0zM1024 682h3.0v3.0h-3.0zM1032 674h3.0v3.0h-3.0zM1032 686h3.0v3.0h-3.0zM1036 682h3.0v3.0h-3.0zM1038 674h3.0v3.0h-3.0z" fill="#0e0c0b" opacity="0.25"/>
<line x1="311.0" x2="311.0" y1="57.8" y2="746.2" stroke="#e4df78" stroke-width="2.0" stroke-dasharray="4.5 3.5" stroke-opacity="0.9"/>
<line x1="395.5" x2="395.5" y1="57.8" y2="746.2" stroke="#e4df78" stroke-width="2.0" stroke-dasharray="4.5 3.5" stroke-opacity="0.9"/>
<line x1="475.7" x2="475.7" y1="57.8" y2="746.2" stroke="#e4df78" stroke-width="2.0" stroke-dasharray="4.5 3.5" stroke-opacity="0.9"/>
<line x1="555.2" x2="555.2" y1="57.8" y2="746.2" stroke="#e4df78" stroke-width="2.0" stroke-dasharray="4.5 3.5" stroke-opacity="0.9"/>
<line x1="637.5" x2="637.5" y1="57.8" y2="746.2" stroke="#e4df78" stroke-width="2.0" stroke-dasharray="4.5 3.5" stroke-opacity="0.9"/>
<line x1="722.1" x2="722.1" y1="57.8" y2="746.2" stroke="#e4df78" stroke-width="2.0" stroke-dasharray="4.5 3.5" stroke-opacity="0.9"/>
<line x1="806.8" x2="806.8" y1="57.8" y2="746.2" stroke="#ebe580" stroke-width="2" stroke-opacity="0.8"/>
<line x1="885.6" x2="885.6" y1="57.8" y2="746.2" stroke="#e4df78" stroke-width="2.0" stroke-dasharray="4.5 3.5" stroke-opacity="0.9"/>
<line x1="967.8" x2="967.8" y1="57.8" y2="746.2" stroke="#e4df78" stroke-width="2.0" stroke-dasharray="4.5 3.5" stroke-opacity="0.9"/>
<path d="M283.4 613.6h3.4v3.4h-3.4zM302.4 616.7h3.4v3.4h-3.4zM316.3 621.1h3.4v3.4h-3.4zM321.0 609.1h3.4v3.4h-3.4zM338.7 643.9h3.4v3.4h-3.4zM314.1 658.7h3.4v3.4h-3.4zM371.5 655.2h3.4v3.4h-3.4zM364.9 659.7h3.4v3.4h-3.4zM398.7 642.3h3.4v3.4h-3.4zM404.1 660.3h3.4v3.4h-3.4zM407.9 652.4h3.4v3.4h-3.4zM408.8 649.6h3.4v3.4h-3.4zM431.8 654.0h3.4v3.4h-3.4zM444.2 660.0h3.4v3.4h-3.4zM447.3 660.6h3.4v3.4h-3.4zM472.0 607.2h3.4v3.4h-3.4zM480.5 618.0h3.4v3.4h-3.4zM475.7 648.9h3.4v3.4h-3.4zM483.6 642.3h3.4v3.4h-3.4zM496.6 643.2h3.4v3.4h-3.4zM501.0 612.3h3.4v3.4h-3.4zM513.3 592.7h3.4v3.4h-3.4zM523.1 656.5h3.4v3.4h-3.4zM526.6 637.9h3.4v3.4h-3.4zM548.7 636.6h3.4v3.4h-3.4zM549.6 659.7h3.4v3.4h-3.4zM571.4 646.4h3.4v3.4h-3.4zM637.7 642.9h3.4v3.4h-3.4zM653.0 629.0h3.4v3.4h-3.4zM664.5 631.1h3.4v3.4h-3.4zM687.2 655.3h3.4v3.4h-3.4zM707.7 648.6h3.4v3.4h-3.4zM724.0 595.1h3.4v3.4h-3.4zM743.0 591.8h3.4v3.4h-3.4zM728.5 624.4h3.4v3.4h-3.4zM727.6 629.9h3.4v3.4h-3.4zM732.2 629.9h3.4v3.4h-3.4zM730.7 660.4h3.4v3.4h-3.4zM771.4 659.8h3.4v3.4h-3.4zM775.7 661.9h3.4v3.4h-3.4zM786.8 661.9h3.4v3.4h-3.4zM800.1 623.5h3.4v3.4h-3.4zM800.1 655.3h3.4v3.4h-3.4zM808.9 651.9h3.4v3.4h-3.4zM826.4 635.3h3.4v3.4h-3.4zM824.3 648.6h3.4v3.4h-3.4zM900.4 652.8h3.4v3.4h-3.4zM905.5 656.5h3.4v3.4h-3.4zM902.5 660.7h3.4v3.4h-3.4zM906.7 661.9h3.4v3.4h-3.4zM916.7 635.3h3.4v3.4h-3.4zM920.9 640.8h3.4v3.4h-3.4zM973.8 622.3h3.4v3.4h-3.4zM994.3 654.3h3.4v3.4h-3.4zM1012.1 656.5h3.4v3.4h-3.4zM1026.3 657.4h3.4v3.4h-3.4zM1036.0 631.1h3.4v3.4h-3.4zM262.6 545.5h3.4v3.4h-3.4zM369.3 542.1h3.4v3.4h-3.4zM463.8 549.1h3.4v3.4h-3.4zM690.0 436.5h3.4v3.4h-3.4zM729.7 460.8h3.4v3.4h-3.4zM732.9 537.9h3.4v3.4h-3.4zM724.3 595.0h3.4v3.4h-3.4zM928.5 493.9h3.4v3.4h-3.4zM1010.7 556.3h3.4v3.4h-3.4z" fill="#504e4d"/>
<path d="M998.7 285.9h3.4v3.4h-3.4zM1029.6 285.9h3.4v3.4h-3.4zM973.6 290.3h3.4v3.4h-3.4zM983.3 296.8h3.4v3.4h-3.4zM1022.9 294.7h3.4v3.4h-3.4zM1030.6 298.0h3.4v3.4h-3.4zM1039.7 302.2h3.4v3.4h-3.4zM994.5 308.9h3.4v3.4h-3.4zM1025.7 310.4h3.4v3.4h-3.4zM1023.7 311.3h3.4v3.4h-3.4zM981.3 313.2h3.4v3.4h-3.4zM1020.8 314.3h3.4v3.4h-3.4zM1007.4 313.2h3.4v3.4h-3.4zM1009.4 315.3h3.4v3.4h-3.4zM973.6 316.4h3.4v3.4h-3.4zM992.2 316.4h3.4v3.4h-3.4zM1025.0 317.9h3.4v3.4h-3.4zM1040.3 312.0h3.4v3.4h-3.4zM1040.3 318.5h3.4v3.4h-3.4zM998.9 322.1h3.4v3.4h-3.4zM1007.7 323.1h3.4v3.4h-3.4zM1013.9 324.2h3.4v3.4h-3.4zM1018.5 326.3h3.4v3.4h-3.4zM1035.1 322.1h3.4v3.4h-3.4zM983.3 324.2h3.4v3.4h-3.4zM1003.2 327.6h3.4v3.4h-3.4zM1008.7 328.6h3.4v3.4h-3.4zM967.0 331.9h3.4v3.4h-3.4zM973.5 331.9h3.4v3.4h-3.4zM971.2 334.2h3.4v3.4h-3.4zM989.0 330.9h3.4v3.4h-3.4zM982.3 334.2h3.4v3.4h-3.4zM998.0 332.8h3.4v3.4h-3.4zM994.4 335.1h3.4v3.4h-3.4zM1024.0 331.9h3.4v3.4h-3.4zM1028.3 335.1h3.4v3.4h-3.4zM1030.6 338.4h3.4v3.4h-3.4zM1037.4 334.2h3.4v3.4h-3.4zM968.9 339.7h3.4v3.4h-3.4zM972.9 340.7h3.4v3.4h-3.4zM974.2 342.0h3.4v3.4h-3.4zM994.4 339.7h3.4v3.4h-3.4zM1004.8 340.3h3.4v3.4h-3.4zM1004.8 343.3h3.4v3.4h-3.4zM1005.5 344.9h3.4v3.4h-3.4zM1008.7 339.7h3.4v3.4h-3.4zM1012.0 342.6h3.4v3.4h-3.4zM1013.0 345.9h3.4v3.4h-3.4zM1017.5 340.7h3.4v3.4h-3.4zM1024.0 340.7h3.4v3.4h-3.4zM1023.1 343.9h3.4v3.4h-3.4zM1036.1 343.9h3.4v3.4h-3.4zM987.7 342.0h3.4v3.4h-3.4zM986.9 348.5h3.4v3.4h-3.4zM995.6 353.1h3.4v3.4h-3.4zM1021.8 351.8h3.4v3.4h-3.4zM1032.7 357.0h3.4v3.4h-3.4zM1026.3 361.9h3.4v3.4h-3.4zM1004.3 367.4h3.4v3.4h-3.4zM972.2 125.1h3.4v3.4h-3.4z" fill="#35538f"/>
<line x1="236.5" x2="1043.5" y1="394.5" y2="394.5" stroke="#ab5ea1" stroke-width="3"/>
<text x="283.53" y="394.50" font-size="11.50" textLength="26.37" lengthAdjust="spacingAndGlyphs" fill="#3a2a35" >4585</text>
<line x1="236.0" x2="236.0" y1="55.8" y2="753" stroke="#737373" stroke-width="1.8"/>
<line x1="231.5" x2="1044.5" y1="56.8" y2="56.8" stroke="#727272" stroke-width="1.8"/>
<line x1="231" x2="1044.5" y1="747.2" y2="747.2" stroke="#1c1c1c" stroke-width="1.8"/>
<line x1="1043.5" x2="1043.5" y1="55.8" y2="748.2" stroke="#1c1c1c" stroke-width="2"/>
<path d="M231.5 747.2H242M231.5 670.5H242M1038 670.5H1043.5M231.5 593.8H242M1038 593.8H1043.5M231.5 517.1H242M1038 517.1H1043.5M231.5 440.4H242M1038 440.4H1043.5M231.5 363.6H242M1038 363.6H1043.5M231.5 286.9H242M1038 286.9H1043.5M231.5 210.2H242M1038 210.2H1043.5M231.5 133.5H242M1038 133.5H1043.5M231.5 56.8H242M236.5 742.2V752.7M236.5 56.8V61.8M379.2 742.2V752.7M379.2 56.8V61.8M521.8 742.2V752.7M521.8 56.8V61.8M664.4 742.2V752.7M664.4 56.8V61.8M807.0 742.2V752.7M807.0 56.8V61.8M950.0 742.2V752.7M950.0 56.8V61.8" stroke="#222" stroke-width="1.6" fill="none"/>
<text x="204.26" y="752.80" font-size="14.30" textLength="7.45" lengthAdjust="spacingAndGlyphs" fill="#221e1c" stroke="#221e1c" stroke-width="0.45">0</text>
<text x="192.58" y="676.09" font-size="14.30" textLength="30.37" lengthAdjust="spacingAndGlyphs" fill="#221e1c" stroke="#221e1c" stroke-width="0.45">1000</text>
<text x="192.93" y="599.38" font-size="14.30" textLength="30.01" lengthAdjust="spacingAndGlyphs" fill="#221e1c" stroke="#221e1c" stroke-width="0.45">2000</text>
<text x="193.10" y="522.67" font-size="14.30" textLength="29.84" lengthAdjust="spacingAndGlyphs" fill="#221e1c" stroke="#221e1c" stroke-width="0.45">3000</text>
<text x="193.30" y="445.96" font-size="14.30" textLength="29.63" lengthAdjust="spacingAndGlyphs" fill="#221e1c" stroke="#221e1c" stroke-width="0.45">4000</text>
<text x="193.06" y="369.24" font-size="14.30" textLength="29.87" lengthAdjust="spacingAndGlyphs" fill="#221e1c" stroke="#221e1c" stroke-width="0.45">5000</text>
<text x="192.93" y="292.53" font-size="14.30" textLength="30.01" lengthAdjust="spacingAndGlyphs" fill="#221e1c" stroke="#221e1c" stroke-width="0.45">6000</text>
<text x="192.89" y="215.82" font-size="14.30" textLength="30.05" lengthAdjust="spacingAndGlyphs" fill="#221e1c" stroke="#221e1c" stroke-width="0.45">7000</text>
<text x="193.03" y="139.11" font-size="14.30" textLength="29.90" lengthAdjust="spacingAndGlyphs" fill="#221e1c" stroke="#221e1c" stroke-width="0.45">8000</text>
<text x="192.96" y="62.40" font-size="14.30" textLength="29.97" lengthAdjust="spacingAndGlyphs" fill="#221e1c" stroke="#221e1c" stroke-width="0.45">9000</text>
<text x="264.65" y="54.00" font-size="10.00" textLength="20.67" lengthAdjust="spacingAndGlyphs" fill="#2a2a2a" stroke="#2a2a2a" stroke-width="0.35">G01</text>
<text x="344.25" y="54.00" font-size="10.00" textLength="20.70" lengthAdjust="spacingAndGlyphs" fill="#2a2a2a" stroke="#2a2a2a" stroke-width="0.35">G02</text>
<text x="426.25" y="54.00" font-size="10.00" textLength="20.61" lengthAdjust="spacingAndGlyphs" fill="#2a2a2a" stroke="#2a2a2a" stroke-width="0.35">G03</text>
<text x="505.66" y="54.00" font-size="10.00" textLength="20.44" lengthAdjust="spacingAndGlyphs" fill="#2a2a2a" stroke="#2a2a2a" stroke-width="0.35">G04</text>
<text x="586.86" y="54.00" font-size="10.00" textLength="20.58" lengthAdjust="spacingAndGlyphs" fill="#2a2a2a" stroke="#2a2a2a" stroke-width="0.35">G05</text>
<text x="670.15" y="54.00" font-size="10.00" textLength="20.61" lengthAdjust="spacingAndGlyphs" fill="#2a2a2a" stroke="#2a2a2a" stroke-width="0.35">G06</text>
<text x="755.35" y="54.00" font-size="10.00" textLength="20.70" lengthAdjust="spacingAndGlyphs" fill="#2a2a2a" stroke="#2a2a2a" stroke-width="0.35">G07</text>
<text x="837.05" y="54.00" font-size="10.00" textLength="20.61" lengthAdjust="spacingAndGlyphs" fill="#2a2a2a" stroke="#2a2a2a" stroke-width="0.35">G08</text>
<text x="917.65" y="54.00" font-size="10.00" textLength="20.64" lengthAdjust="spacingAndGlyphs" fill="#2a2a2a" stroke="#2a2a2a" stroke-width="0.35">G09</text>
<text x="996.96" y="54.00" font-size="10.00" textLength="20.55" lengthAdjust="spacingAndGlyphs" fill="#2a2a2a" stroke="#2a2a2a" stroke-width="0.35">G10</text>
<text x="539.95" y="39.60" font-size="12.80" font-weight="bold" textLength="153.43" lengthAdjust="spacingAndGlyphs" fill="#222" >Ch1 Pos:61 Neg:113094</text>
<text x="-1.29" y="48.50" font-size="70.00" font-weight="bold" textLength="51.74" lengthAdjust="spacingAndGlyphs" fill="#161616" stroke="#161616" stroke-width="1.1">A</text>
<text transform="rotate(-90)" x="-582.87" y="129.70" font-size="65.00" textLength="376.07" lengthAdjust="spacingAndGlyphs" fill="#111" >Fluorescence</text>
<text x="839.09" y="254.50" font-size="51.40" textLength="194.37" lengthAdjust="spacingAndGlyphs" fill="#111" >Case S88</text>
<text x="339.06" y="816.80" font-size="45.60" textLength="206.91" lengthAdjust="spacingAndGlyphs" fill="#111">Klebsiella&#160;</text>
<text x="545.97" y="816.80" font-size="45.60" font-style="italic" textLength="214.54" lengthAdjust="spacingAndGlyphs" fill="#111">aerogenes</text>
<text x="760.50" y="816.80" font-size="45.60" textLength="181.64" lengthAdjust="spacingAndGlyphs" fill="#111">&#160;Droplets</text>
<text x="1.19" y="875.50" font-size="70.00" font-weight="bold" textLength="48.30" lengthAdjust="spacingAndGlyphs" fill="#161616" stroke="#161616" stroke-width="1.1">B</text>
<text x="158.20" y="919.10" font-size="51.40" textLength="193.25" lengthAdjust="spacingAndGlyphs" fill="#111" >Case S88</text>
<text x="54.07" y="983.10" font-size="24.50" textLength="98.48" lengthAdjust="spacingAndGlyphs" fill="#1d6a3e" >Genomic</text>
<text x="46.37" y="1012.50" font-size="24.50" textLength="113.68" lengthAdjust="spacingAndGlyphs" fill="#1d6a3e" >Coverage:</text>
<text x="272.52" y="982.60" font-size="17.00" textLength="56.75" lengthAdjust="spacingAndGlyphs" fill="#111" >500000</text>
<text x="383.34" y="982.60" font-size="17.00" textLength="65.61" lengthAdjust="spacingAndGlyphs" fill="#111" >1000000</text>
<text x="498.44" y="982.60" font-size="17.00" textLength="65.61" lengthAdjust="spacingAndGlyphs" fill="#111" >1500000</text>
<text x="613.56" y="982.60" font-size="17.00" textLength="65.18" lengthAdjust="spacingAndGlyphs" fill="#111" >2000000</text>
<text x="728.66" y="982.60" font-size="17.00" textLength="65.18" lengthAdjust="spacingAndGlyphs" fill="#111" >2500000</text>
<text x="843.57" y="982.60" font-size="17.00" textLength="65.68" lengthAdjust="spacingAndGlyphs" fill="#111" >3000000</text>
<text x="958.57" y="982.60" font-size="17.00" textLength="65.68" lengthAdjust="spacingAndGlyphs" fill="#111" >3500000</text>
<text x="1073.82" y="982.60" font-size="17.00" textLength="65.42" lengthAdjust="spacingAndGlyphs" fill="#111" >4000000</text>
<text x="1188.82" y="982.60" font-size="17.00" textLength="65.42" lengthAdjust="spacingAndGlyphs" fill="#111" >4500000</text>
<text x="1303.52" y="982.60" font-size="17.00" textLength="65.72" lengthAdjust="spacingAndGlyphs" fill="#111" >5000000</text>
<text x="768.70" y="1060.00" font-size="16.00" font-weight="bold" textLength="82.47" lengthAdjust="spacingAndGlyphs" fill="#222" >Base pairs</text>
<path d="M188.5 1041.3 L188.5 1013.0 L191.0 1017.9 L193.2 1013.6 L195.4 1019.0 L199.8 1021.2 L202.0 1027.8 L204.2 1011.4 L207.5 1011.4 L210.7 1020.1 L214.0 1015.7 L217.3 1001.5 L219.5 1016.8 L221.7 1007.0 L223.9 1020.1 L226.1 1016.8 L229.4 1016.8 L231.6 1032.2 L237.1 1032.2 L239.3 1020.1 L243.7 1011.4 L245.9 1014.7 L248.1 1025.6 L252.5 1024.5 L254.7 1011.4 L256.9 1021.2 L260.2 1019.0 L263.5 1017.9 L265.7 1014.7 L269.0 1015.7 L271.1 1028.9 L274.4 1031.1 L276.6 1028.9 L278.8 1016.8 L282.1 1017.9 L283.2 1015.7 L285.4 1032.2 L315.1 1032.2 L317.3 1020.1 L320.6 1023.4 L322.8 1026.7 L325.0 1020.1 L327.2 1032.2 L331.5 1032.2 L334.8 1023.4 L337.0 1011.4 L339.2 1020.1 L342.1 999.3 L344.7 1017.9 L346.9 1024.5 L350.2 1013.6 L352.4 1024.5 L355.3 1007.0 L357.9 1028.9 L361.2 1011.4 L363.4 1024.5 L365.6 1015.7 L368.9 1015.7 L371.1 1024.5 L374.4 1019.0 L377.7 1015.7 L381.0 1016.8 L384.3 1012.5 L387.6 1014.7 L390.8 1019.0 L393.0 1025.6 L395.2 1017.9 L398.5 1017.9 L401.8 1021.2 L405.1 1017.9 L407.3 1028.9 L410.6 1021.2 L413.9 1017.9 L417.2 1015.7 L420.5 1009.2 L422.7 1032.2 L426.0 1017.9 L428.2 1015.7 L431.5 1012.5 L434.8 1017.9 L438.1 1017.9 L441.4 1019.0 L443.6 1024.5 L446.9 1013.6 L449.1 1024.5 L452.3 1020.1 L455.6 1019.0 L457.8 1019.0 L460.0 1010.3 L463.3 1020.1 L465.5 1019.0 L468.8 1010.3 L471.0 1020.1 L474.3 1009.2 L477.6 1019.0 L479.8 1028.9 L483.1 1021.2 L486.4 1021.2 L488.6 1015.7 L490.8 1027.8 L493.0 1027.8 L495.2 1015.7 L500.0 1024.5 L504.0 1010.3 L506.6 1025.6 L508.8 1019.0 L512.1 1017.9 L514.9 1014.7 L516.5 1020.1 L519.3 1005.9 L522.0 1017.9 L524.2 1031.1 L525.9 1031.1 L528.1 1010.3 L530.7 1022.3 L535.1 1019.0 L539.5 1020.1 L541.7 1025.6 L543.9 1025.6 L545.7 1016.8 L547.2 1025.6 L549.4 1008.1 L552.7 1008.1 L554.9 1017.9 L557.5 1022.3 L559.3 1016.8 L562.6 1015.7 L564.1 1019.0 L565.9 1015.7 L569.2 1019.0 L570.7 1023.4 L572.9 1017.9 L575.8 1023.4 L579.1 1019.0 L582.4 1020.1 L585.7 1025.6 L587.4 1024.5 L589.6 1031.1 L592.2 1023.4 L595.5 1012.5 L597.7 1020.1 L600.6 1003.7 L602.8 1021.2 L606.5 1019.0 L608.7 1030.0 L610.9 1020.1 L614.2 1031.1 L617.5 1007.0 L619.7 1028.9 L624.1 1012.5 L627.4 1022.3 L630.7 1017.9 L632.9 1025.6 L635.1 1019.0 L638.4 1020.1 L640.6 1017.9 L643.9 1022.3 L647.2 1022.3 L650.5 1013.6 L652.6 1019.0 L654.8 996.0 L657.0 1017.9 L659.2 1014.7 L662.5 1024.5 L664.3 1033.3 L671.3 1033.3 L674.6 1028.9 L677.9 1031.1 L681.2 1019.0 L685.6 1022.3 L690.0 1008.1 L692.2 1022.3 L695.5 1022.3 L698.8 1028.9 L701.0 1014.7 L705.4 1011.4 L707.6 1012.5 L710.8 1010.3 L714.1 1019.0 L716.3 1020.1 L720.7 1003.7 L724.0 1012.5 L726.2 1021.2 L729.5 1017.9 L732.4 1024.5 L736.1 1017.9 L738.3 1022.3 L741.6 1021.2 L744.9 1022.3 L748.2 1022.3 L751.5 1022.3 L753.7 1027.8 L757.4 1005.9 L759.2 1022.3 L762.5 1021.2 L765.8 1019.0 L768.4 1002.6 L770.6 1014.7 L773.4 1016.8 L776.7 1014.7 L780.0 1021.2 L782.2 1017.9 L784.4 1025.6 L787.7 1021.2 L789.9 1019.0 L793.2 1015.7 L796.5 1013.6 L798.7 1016.8 L800.9 1013.6 L804.2 1024.5 L807.5 1017.9 L809.7 1020.1 L811.9 1021.2 L814.5 1027.8 L816.3 1019.0 L820.0 1022.3 L823.3 1021.2 L825.5 1010.3 L827.7 1014.7 L829.9 999.3 L832.1 1031.1 L835.4 1015.7 L838.7 1012.5 L842.0 1017.9 L844.6 1012.5 L847.5 1014.7 L849.7 1012.5 L852.9 1022.3 L855.1 1021.2 L858.4 1010.3 L860.6 1021.2 L862.8 1012.5 L865.0 1020.1 L868.3 1010.3 L871.6 1020.1 L873.8 1009.2 L876.0 1025.6 L878.2 1012.5 L880.4 1015.7 L882.6 1009.2 L884.8 1024.5 L888.5 1009.2 L891.4 1020.1 L894.7 1016.8 L896.9 1019.0 L899.1 1013.6 L902.4 1015.7 L904.6 1023.4 L906.8 1016.8 L910.1 1020.1 L913.3 1012.5 L915.5 1030.0 L919.3 1005.9 L922.1 1015.7 L924.3 1009.2 L928.7 1033.3 L930.9 1032.2 L933.1 1026.7 L936.4 1005.9 L939.7 1013.6 L941.9 1024.5 L944.1 1023.4 L946.3 1025.6 L948.5 1023.4 L950.7 1025.6 L952.9 1033.3 L960.6 1033.3 L962.8 1013.6 L967.2 1005.9 L969.4 1030.0 L971.5 1009.2 L974.8 1019.0 L978.1 1019.0 L982.5 1017.9 L986.9 1011.4 L989.1 1020.1 L991.3 1009.2 L993.5 1022.3 L996.8 1020.1 L1000.1 1017.9 L1003.4 1010.3 L1006.7 1007.0 L1008.9 1023.4 L1011.1 1009.2 L1013.3 1020.1 L1017.7 1013.6 L1021.0 1016.8 L1024.3 1020.1 L1026.5 1017.9 L1028.7 1024.5 L1030.8 1020.1 L1033.0 1007.0 L1036.3 1014.7 L1038.5 1032.2 L1040.7 1020.1 L1044.0 1012.5 L1047.3 1023.4 L1050.6 1002.6 L1052.8 1019.0 L1055.0 1009.2 L1058.3 1021.2 L1060.5 1024.5 L1063.8 1016.8 L1066.0 1026.7 L1068.2 1004.8 L1070.4 1007.0 L1072.6 1014.7 L1074.8 1010.3 L1078.1 1021.2 L1081.4 1005.9 L1083.6 1030.0 L1085.8 1014.7 L1088.0 1011.4 L1090.2 1019.0 L1092.3 1014.7 L1095.6 1020.1 L1097.8 1021.2 L1101.1 1007.0 L1104.4 1030.0 L1107.3 1012.5 L1109.9 1024.5 L1112.1 1017.9 L1115.4 1021.2 L1118.7 1016.8 L1122.0 1019.0 L1125.3 1020.1 L1127.5 1028.9 L1129.7 1020.1 L1131.9 996.0 L1134.1 1015.7 L1136.3 1016.8 L1140.0 1020.9 L1142.6 1006.8 L1145.4 1016.5 L1148.7 1018.7 L1152.0 1020.9 L1154.1 1018.7 L1157.4 1018.7 L1160.0 1008.9 L1162.8 1015.5 L1166.1 1022.0 L1168.3 1020.9 L1170.5 1024.2 L1172.6 1023.1 L1175.2 1000.2 L1178.1 1019.8 L1181.8 1002.4 L1184.6 1023.1 L1188.3 1000.2 L1191.1 1013.3 L1194.4 1025.3 L1196.6 1023.1 L1199.2 1025.3 L1201.4 1024.2 L1203.5 1016.5 L1205.3 1019.8 L1207.9 1014.4 L1210.1 1025.3 L1212.9 1006.8 L1215.1 1011.1 L1217.9 1013.3 L1220.5 1018.7 L1223.8 998.1 L1225.9 1014.4 L1228.1 1033.3 L1230.3 1013.3 L1232.5 1016.5 L1234.6 1015.5 L1236.8 1030.7 L1240.1 1024.2 L1242.3 1017.6 L1245.5 1022.0 L1248.8 1014.4 L1252.1 1015.5 L1255.3 1016.5 L1258.6 1004.6 L1260.8 1016.5 L1262.9 1022.0 L1265.1 1022.0 L1267.3 1016.5 L1269.5 1017.6 L1271.6 1025.3 L1274.5 1019.8 L1278.2 1020.9 L1281.4 1020.9 L1283.6 1016.5 L1285.8 1024.2 L1289.0 1012.2 L1291.2 1025.3 L1293.4 1031.8 L1296.7 1015.5 L1299.9 1015.5 L1302.1 1025.3 L1304.3 1023.1 L1308.6 1011.1 L1310.8 1015.5 L1313.0 1012.2 L1316.2 1015.5 L1318.4 1024.2 L1321.7 1015.5 L1323.9 1018.7 L1326.0 1016.5 L1328.6 1002.4 L1330.4 1012.2 L1333.6 1012.2 L1335.8 1024.2 L1338.4 1012.2 L1341.3 1012.2 L1343.4 1014.4 L1346.7 1019.8 L1350.0 1018.7 L1352.1 1020.9 L1354.3 1019.8 L1356.5 1022.0 L1359.8 1020.9 L1361.9 1024.2 L1363.7 1017.6 L1366.3 1032.9 L1379.3 1032.9 L1382.6 1030.7 L1384.8 1032.9 L1390.2 1032.9 L1393.5 1011.1 L1395.7 1023.1 L1397.8 1016.5 L1401.1 1023.1 L1404.4 1015.5 L1407.2 1006.8 L1409.8 1015.5 L1412.0 1022.0 L1414.2 1012.2 L1416.3 1012.2 L1419.6 1031.8 L1425.0 1032.9 L1427.2 1031.8 L1429.4 1022.0 L1433.0 1022.0 L1433 1041.3Z" fill="url(#gB)"/>
<rect x="188.5" y="1033.3" width="1244.5" height="8.0" fill="#3f8d29"/>
<path d="M188.5 1013.0 L191.0 1017.9 L193.2 1013.6 L195.4 1019.0 L199.8 1021.2 L202.0 1027.8 L204.2 1011.4 L207.5 1011.4 L210.7 1020.1 L214.0 1015.7 L217.3 1001.5 L219.5 1016.8 L221.7 1007.0 L223.9 1020.1 L226.1 1016.8 L229.4 1016.8 L231.6 1032.2 L237.1 1032.2 L239.3 1020.1 L243.7 1011.4 L245.9 1014.7 L248.1 1025.6 L252.5 1024.5 L254.7 1011.4 L256.9 1021.2 L260.2 1019.0 L263.5 1017.9 L265.7 1014.7 L269.0 1015.7 L271.1 1028.9 L274.4 1031.1 L276.6 1028.9 L278.8 1016.8 L282.1 1017.9 L283.2 1015.7 L285.4 1032.2 L315.1 1032.2 L317.3 1020.1 L320.6 1023.4 L322.8 1026.7 L325.0 1020.1 L327.2 1032.2 L331.5 1032.2 L334.8 1023.4 L337.0 1011.4 L339.2 1020.1 L342.1 999.3 L344.7 1017.9 L346.9 1024.5 L350.2 1013.6 L352.4 1024.5 L355.3 1007.0 L357.9 1028.9 L361.2 1011.4 L363.4 1024.5 L365.6 1015.7 L368.9 1015.7 L371.1 1024.5 L374.4 1019.0 L377.7 1015.7 L381.0 1016.8 L384.3 1012.5 L387.6 1014.7 L390.8 1019.0 L393.0 1025.6 L395.2 1017.9 L398.5 1017.9 L401.8 1021.2 L405.1 1017.9 L407.3 1028.9 L410.6 1021.2 L413.9 1017.9 L417.2 1015.7 L420.5 1009.2 L422.7 1032.2 L426.0 1017.9 L428.2 1015.7 L431.5 1012.5 L434.8 1017.9 L438.1 1017.9 L441.4 1019.0 L443.6 1024.5 L446.9 1013.6 L449.1 1024.5 L452.3 1020.1 L455.6 1019.0 L457.8 1019.0 L460.0 1010.3 L463.3 1020.1 L465.5 1019.0 L468.8 1010.3 L471.0 1020.1 L474.3 1009.2 L477.6 1019.0 L479.8 1028.9 L483.1 1021.2 L486.4 1021.2 L488.6 1015.7 L490.8 1027.8 L493.0 1027.8 L495.2 1015.7 L500.0 1024.5 L504.0 1010.3 L506.6 1025.6 L508.8 1019.0 L512.1 1017.9 L514.9 1014.7 L516.5 1020.1 L519.3 1005.9 L522.0 1017.9 L524.2 1031.1 L525.9 1031.1 L528.1 1010.3 L530.7 1022.3 L535.1 1019.0 L539.5 1020.1 L541.7 1025.6 L543.9 1025.6 L545.7 1016.8 L547.2 1025.6 L549.4 1008.1 L552.7 1008.1 L554.9 1017.9 L557.5 1022.3 L559.3 1016.8 L562.6 1015.7 L564.1 1019.0 L565.9 1015.7 L569.2 1019.0 L570.7 1023.4 L572.9 1017.9 L575.8 1023.4 L579.1 1019.0 L582.4 1020.1 L585.7 1025.6 L587.4 1024.5 L589.6 1031.1 L592.2 1023.4 L595.5 1012.5 L597.7 1020.1 L600.6 1003.7 L602.8 1021.2 L606.5 1019.0 L608.7 1030.0 L610.9 1020.1 L614.2 1031.1 L617.5 1007.0 L619.7 1028.9 L624.1 1012.5 L627.4 1022.3 L630.7 1017.9 L632.9 1025.6 L635.1 1019.0 L638.4 1020.1 L640.6 1017.9 L643.9 1022.3 L647.2 1022.3 L650.5 1013.6 L652.6 1019.0 L654.8 996.0 L657.0 1017.9 L659.2 1014.7 L662.5 1024.5 L664.3 1033.3 L671.3 1033.3 L674.6 1028.9 L677.9 1031.1 L681.2 1019.0 L685.6 1022.3 L690.0 1008.1 L692.2 1022.3 L695.5 1022.3 L698.8 1028.9 L701.0 1014.7 L705.4 1011.4 L707.6 1012.5 L710.8 1010.3 L714.1 1019.0 L716.3 1020.1 L720.7 1003.7 L724.0 1012.5 L726.2 1021.2 L729.5 1017.9 L732.4 1024.5 L736.1 1017.9 L738.3 1022.3 L741.6 1021.2 L744.9 1022.3 L748.2 1022.3 L751.5 1022.3 L753.7 1027.8 L757.4 1005.9 L759.2 1022.3 L762.5 1021.2 L765.8 1019.0 L768.4 1002.6 L770.6 1014.7 L773.4 1016.8 L776.7 1014.7 L780.0 1021.2 L782.2 1017.9 L784.4 1025.6 L787.7 1021.2 L789.9 1019.0 L793.2 1015.7 L796.5 1013.6 L798.7 1016.8 L800.9 1013.6 L804.2 1024.5 L807.5 1017.9 L809.7 1020.1 L811.9 1021.2 L814.5 1027.8 L816.3 1019.0 L820.0 1022.3 L823.3 1021.2 L825.5 1010.3 L827.7 1014.7 L829.9 999.3 L832.1 1031.1 L835.4 1015.7 L838.7 1012.5 L842.0 1017.9 L844.6 1012.5 L847.5 1014.7 L849.7 1012.5 L852.9 1022.3 L855.1 1021.2 L858.4 1010.3 L860.6 1021.2 L862.8 1012.5 L865.0 1020.1 L868.3 1010.3 L871.6 1020.1 L873.8 1009.2 L876.0 1025.6 L878.2 1012.5 L880.4 1015.7 L882.6 1009.2 L884.8 1024.5 L888.5 1009.2 L891.4 1020.1 L894.7 1016.8 L896.9 1019.0 L899.1 1013.6 L902.4 1015.7 L904.6 1023.4 L906.8 1016.8 L910.1 1020.1 L913.3 1012.5 L915.5 1030.0 L919.3 1005.9 L922.1 1015.7 L924.3 1009.2 L928.7 1033.3 L930.9 1032.2 L933.1 1026.7 L936.4 1005.9 L939.7 1013.6 L941.9 1024.5 L944.1 1023.4 L946.3 1025.6 L948.5 1023.4 L950.7 1025.6 L952.9 1033.3 L960.6 1033.3 L962.8 1013.6 L967.2 1005.9 L969.4 1030.0 L971.5 1009.2 L974.8 1019.0 L978.1 1019.0 L982.5 1017.9 L986.9 1011.4 L989.1 1020.1 L991.3 1009.2 L993.5 1022.3 L996.8 1020.1 L1000.1 1017.9 L1003.4 1010.3 L1006.7 1007.0 L1008.9 1023.4 L1011.1 1009.2 L1013.3 1020.1 L1017.7 1013.6 L1021.0 1016.8 L1024.3 1020.1 L1026.5 1017.9 L1028.7 1024.5 L1030.8 1020.1 L1033.0 1007.0 L1036.3 1014.7 L1038.5 1032.2 L1040.7 1020.1 L1044.0 1012.5 L1047.3 1023.4 L1050.6 1002.6 L1052.8 1019.0 L1055.0 1009.2 L1058.3 1021.2 L1060.5 1024.5 L1063.8 1016.8 L1066.0 1026.7 L1068.2 1004.8 L1070.4 1007.0 L1072.6 1014.7 L1074.8 1010.3 L1078.1 1021.2 L1081.4 1005.9 L1083.6 1030.0 L1085.8 1014.7 L1088.0 1011.4 L1090.2 1019.0 L1092.3 1014.7 L1095.6 1020.1 L1097.8 1021.2 L1101.1 1007.0 L1104.4 1030.0 L1107.3 1012.5 L1109.9 1024.5 L1112.1 1017.9 L1115.4 1021.2 L1118.7 1016.8 L1122.0 1019.0 L1125.3 1020.1 L1127.5 1028.9 L1129.7 1020.1 L1131.9 996.0 L1134.1 1015.7 L1136.3 1016.8 L1140.0 1020.9 L1142.6 1006.8 L1145.4 1016.5 L1148.7 1018.7 L1152.0 1020.9 L1154.1 1018.7 L1157.4 1018.7 L1160.0 1008.9 L1162.8 1015.5 L1166.1 1022.0 L1168.3 1020.9 L1170.5 1024.2 L1172.6 1023.1 L1175.2 1000.2 L1178.1 1019.8 L1181.8 1002.4 L1184.6 1023.1 L1188.3 1000.2 L1191.1 1013.3 L1194.4 1025.3 L1196.6 1023.1 L1199.2 1025.3 L1201.4 1024.2 L1203.5 1016.5 L1205.3 1019.8 L1207.9 1014.4 L1210.1 1025.3 L1212.9 1006.8 L1215.1 1011.1 L1217.9 1013.3 L1220.5 1018.7 L1223.8 998.1 L1225.9 1014.4 L1228.1 1033.3 L1230.3 1013.3 L1232.5 1016.5 L1234.6 1015.5 L1236.8 1030.7 L1240.1 1024.2 L1242.3 1017.6 L1245.5 1022.0 L1248.8 1014.4 L1252.1 1015.5 L1255.3 1016.5 L1258.6 1004.6 L1260.8 1016.5 L1262.9 1022.0 L1265.1 1022.0 L1267.3 1016.5 L1269.5 1017.6 L1271.6 1025.3 L1274.5 1019.8 L1278.2 1020.9 L1281.4 1020.9 L1283.6 1016.5 L1285.8 1024.2 L1289.0 1012.2 L1291.2 1025.3 L1293.4 1031.8 L1296.7 1015.5 L1299.9 1015.5 L1302.1 1025.3 L1304.3 1023.1 L1308.6 1011.1 L1310.8 1015.5 L1313.0 1012.2 L1316.2 1015.5 L1318.4 1024.2 L1321.7 1015.5 L1323.9 1018.7 L1326.0 1016.5 L1328.6 1002.4 L1330.4 1012.2 L1333.6 1012.2 L1335.8 1024.2 L1338.4 1012.2 L1341.3 1012.2 L1343.4 1014.4 L1346.7 1019.8 L1350.0 1018.7 L1352.1 1020.9 L1354.3 1019.8 L1356.5 1022.0 L1359.8 1020.9 L1361.9 1024.2 L1363.7 1017.6 L1366.3 1032.9 L1379.3 1032.9 L1382.6 1030.7 L1384.8 1032.9 L1390.2 1032.9 L1393.5 1011.1 L1395.7 1023.1 L1397.8 1016.5 L1401.1 1023.1 L1404.4 1015.5 L1407.2 1006.8 L1409.8 1015.5 L1412.0 1022.0 L1414.2 1012.2 L1416.3 1012.2 L1419.6 1031.8 L1425.0 1032.9 L1427.2 1031.8 L1429.4 1022.0 L1433.0 1022.0" fill="none" stroke="#30722a" stroke-width="1.8" stroke-linejoin="round"/>
<line x1="187" x2="1434" y1="1041.3" y2="1041.3" stroke="#111" stroke-width="2.4"/>
<line x1="187.9" x2="187.9" y1="994" y2="1041.3" stroke="#2a2a2a" stroke-width="1.8"/>
<line x1="1433" x2="1433" y1="993.4" y2="1041.3" stroke="#2a2a2a" stroke-width="1.8"/>
<rect x="181.8" y="1009" width="9.4" height="18.4" rx="2.5" fill="#f6f6f6" stroke="#262626" stroke-width="1.4"/>
<path d="M185.1 1012.5V1024M187.9 1012.5V1024" stroke="#4a4a4a" stroke-width="1.1"/>
<rect x="1429.0" y="1009" width="9.4" height="18.4" rx="2.5" fill="#f6f6f6" stroke="#262626" stroke-width="1.4"/>
<path d="M1432.3 1012.5V1024M1435.1 1012.5V1024" stroke="#4a4a4a" stroke-width="1.1"/>
<text x="0.37" y="1213.50" font-size="70.00" font-weight="bold" textLength="47.41" lengthAdjust="spacingAndGlyphs" fill="#161616" stroke="#161616" stroke-width="1.1">C</text>
<text x="165.28" y="1235.40" font-size="47.00" textLength="83.65" lengthAdjust="spacingAndGlyphs" fill="#111" >S87</text>
<text x="119.08" y="1291.50" font-size="47.00" textLength="175.91" lengthAdjust="spacingAndGlyphs" fill="#111" >Abscess</text>
<text x="78.23" y="1347.80" font-size="47.00" textLength="255.57" lengthAdjust="spacingAndGlyphs" fill="#111" >DNA Extract</text>
<text x="463.48" y="1235.60" font-size="47.00" textLength="83.65" lengthAdjust="spacingAndGlyphs" fill="#111" >S87</text>
<text x="425.97" y="1291.70" font-size="47.00" textLength="154.72" lengthAdjust="spacingAndGlyphs" fill="#111" >Plasma</text>
<text x="376.52" y="1348.00" font-size="47.00" textLength="256.28" lengthAdjust="spacingAndGlyphs" fill="#111" >DNA Extract</text>
<text x="795.90" y="1277.60" font-size="47.00" textLength="165.48" lengthAdjust="spacingAndGlyphs" fill="#111" >Positive</text>
<text x="803.24" y="1333.80" font-size="47.00" textLength="152.29" lengthAdjust="spacingAndGlyphs" fill="#111" >Control</text>
<text x="1134.13" y="1277.60" font-size="47.00" textLength="185.36" lengthAdjust="spacingAndGlyphs" fill="#111" >Negative</text>
<text x="1158.76" y="1333.80" font-size="47.00" textLength="151.05" lengthAdjust="spacingAndGlyphs" fill="#111" >Control</text>
<rect x="108.5" y="1398.2" width="1321.1" height="449.20000000000005" fill="#f9f9f9"/>
<path d="M108.5 1772.5H1429.6M108.5 1697.7H1429.6M108.5 1622.8H1429.6M108.5 1547.9H1429.6M108.5 1473.1H1429.6M295.3 1398.2V1847.4M482.1 1398.2V1847.4M668.9 1398.2V1847.4M855.6 1398.2V1847.4M1042.4 1398.2V1847.4M1229.2 1398.2V1847.4M1416.0 1398.2V1847.4" stroke="#d7d7d7" stroke-width="1.4" fill="none"/>
<line x1="336" x2="336" y1="1400.2" y2="1845.4" stroke="#f6f4b0" stroke-width="4" stroke-opacity="0.55"/>
<line x1="686" x2="686" y1="1400.2" y2="1845.4" stroke="#f6f4b0" stroke-width="4" stroke-opacity="0.55"/>
<line x1="1053.5" x2="1053.5" y1="1400.2" y2="1845.4" stroke="#f6f4b0" stroke-width="4" stroke-opacity="0.55"/>
<rect x="109.5" y="1798.0" width="576.5" height="19.5" fill="url(#gC)"/>
<path d="M109.5 1816.2h4.0v4.0h-4.0zM115.5 1796.0h4.0v4.0h-4.0zM115.5 1816.2h4.0v4.0h-4.0zM120.1 1796.0h4.0v4.0h-4.0zM120.1 1816.5h4.0v4.0h-4.0zM124.6 1795.2h4.0v4.0h-4.0zM129.2 1795.5h4.0v4.0h-4.0zM133.3 1815.3h4.0v4.0h-4.0zM138.8 1797.3h4.0v4.0h-4.0zM138.8 1815.3h4.0v4.0h-4.0zM143.8 1794.3h4.0v4.0h-4.0zM143.8 1814.1h4.0v4.0h-4.0zM149.1 1795.9h4.0v4.0h-4.0zM153.9 1794.4h4.0v4.0h-4.0zM153.9 1815.7h4.0v4.0h-4.0zM158.9 1816.6h4.0v4.0h-4.0zM163.6 1795.1h4.0v4.0h-4.0zM163.6 1816.7h4.0v4.0h-4.0zM169.4 1796.7h4.0v4.0h-4.0zM169.4 1816.9h4.0v4.0h-4.0zM173.3 1794.9h4.0v4.0h-4.0zM173.3 1814.2h4.0v4.0h-4.0zM178.8 1795.8h4.0v4.0h-4.0zM178.8 1816.4h4.0v4.0h-4.0zM183.5 1794.0h4.0v4.0h-4.0zM189.6 1796.3h4.0v4.0h-4.0zM189.6 1814.0h4.0v4.0h-4.0zM195.9 1796.6h4.0v4.0h-4.0zM195.9 1814.9h4.0v4.0h-4.0zM201.9 1795.7h4.0v4.0h-4.0zM201.9 1814.2h4.0v4.0h-4.0zM212.4 1796.8h4.0v4.0h-4.0zM212.4 1815.9h4.0v4.0h-4.0zM217.0 1795.8h4.0v4.0h-4.0zM217.0 1815.3h4.0v4.0h-4.0zM222.9 1794.3h4.0v4.0h-4.0zM222.9 1814.2h4.0v4.0h-4.0zM227.4 1796.1h4.0v4.0h-4.0zM227.4 1815.1h4.0v4.0h-4.0zM231.7 1796.5h4.0v4.0h-4.0zM231.7 1816.8h4.0v4.0h-4.0zM237.0 1794.2h4.0v4.0h-4.0zM237.0 1817.1h4.0v4.0h-4.0zM240.7 1795.3h4.0v4.0h-4.0zM240.7 1817.0h4.0v4.0h-4.0zM244.6 1796.9h4.0v4.0h-4.0zM249.7 1816.4h4.0v4.0h-4.0zM255.2 1796.8h4.0v4.0h-4.0zM259.2 1814.4h4.0v4.0h-4.0zM263.1 1794.2h4.0v4.0h-4.0zM263.1 1816.3h4.0v4.0h-4.0zM267.4 1814.5h4.0v4.0h-4.0zM271.2 1797.4h4.0v4.0h-4.0zM275.6 1795.5h4.0v4.0h-4.0zM275.6 1816.0h4.0v4.0h-4.0zM279.6 1816.9h4.0v4.0h-4.0zM283.6 1794.1h4.0v4.0h-4.0zM283.6 1814.1h4.0v4.0h-4.0zM288.3 1796.7h4.0v4.0h-4.0zM288.3 1814.3h4.0v4.0h-4.0zM293.2 1796.0h4.0v4.0h-4.0zM293.2 1814.4h4.0v4.0h-4.0zM299.1 1794.3h4.0v4.0h-4.0zM305.4 1796.5h4.0v4.0h-4.0zM305.4 1816.6h4.0v4.0h-4.0zM310.4 1815.7h4.0v4.0h-4.0zM316.4 1795.6h4.0v4.0h-4.0zM316.4 1814.5h4.0v4.0h-4.0zM325.0 1816.1h4.0v4.0h-4.0zM331.3 1794.2h4.0v4.0h-4.0zM331.3 1814.2h4.0v4.0h-4.0zM335.8 1796.6h4.0v4.0h-4.0zM335.8 1814.6h4.0v4.0h-4.0zM341.6 1797.3h4.0v4.0h-4.0zM341.6 1814.3h4.0v4.0h-4.0zM346.8 1795.4h4.0v4.0h-4.0zM346.8 1814.1h4.0v4.0h-4.0zM351.8 1795.2h4.0v4.0h-4.0zM351.8 1816.0h4.0v4.0h-4.0zM356.4 1795.2h4.0v4.0h-4.0zM356.4 1814.6h4.0v4.0h-4.0zM362.6 1794.6h4.0v4.0h-4.0zM367.6 1797.2h4.0v4.0h-4.0zM371.5 1795.6h4.0v4.0h-4.0zM371.5 1815.6h4.0v4.0h-4.0zM375.5 1795.7h4.0v4.0h-4.0zM375.5 1814.7h4.0v4.0h-4.0zM380.3 1797.1h4.0v4.0h-4.0zM380.3 1817.1h4.0v4.0h-4.0zM385.3 1817.3h4.0v4.0h-4.0zM390.3 1795.5h4.0v4.0h-4.0zM390.3 1814.8h4.0v4.0h-4.0zM396.0 1796.6h4.0v4.0h-4.0zM396.0 1815.4h4.0v4.0h-4.0zM401.0 1794.4h4.0v4.0h-4.0zM401.0 1816.0h4.0v4.0h-4.0zM405.3 1794.8h4.0v4.0h-4.0zM405.3 1814.2h4.0v4.0h-4.0zM409.5 1794.1h4.0v4.0h-4.0zM409.5 1816.2h4.0v4.0h-4.0zM415.1 1816.8h4.0v4.0h-4.0zM420.0 1817.3h4.0v4.0h-4.0zM424.7 1797.2h4.0v4.0h-4.0zM424.7 1816.6h4.0v4.0h-4.0zM430.2 1796.3h4.0v4.0h-4.0zM430.2 1814.7h4.0v4.0h-4.0zM434.4 1794.1h4.0v4.0h-4.0zM440.3 1795.8h4.0v4.0h-4.0zM440.3 1817.2h4.0v4.0h-4.0zM446.0 1796.8h4.0v4.0h-4.0zM446.0 1817.0h4.0v4.0h-4.0zM451.8 1795.0h4.0v4.0h-4.0zM451.8 1814.6h4.0v4.0h-4.0zM458.1 1794.9h4.0v4.0h-4.0zM458.1 1816.9h4.0v4.0h-4.0zM464.3 1816.9h4.0v4.0h-4.0zM470.1 1796.0h4.0v4.0h-4.0zM475.9 1817.4h4.0v4.0h-4.0zM481.0 1817.4h4.0v4.0h-4.0zM486.8 1794.6h4.0v4.0h-4.0zM486.8 1814.7h4.0v4.0h-4.0zM491.7 1795.8h4.0v4.0h-4.0zM497.2 1796.1h4.0v4.0h-4.0zM497.2 1816.8h4.0v4.0h-4.0zM507.5 1795.2h4.0v4.0h-4.0zM512.0 1794.6h4.0v4.0h-4.0zM512.0 1814.0h4.0v4.0h-4.0zM517.0 1797.1h4.0v4.0h-4.0zM521.8 1795.9h4.0v4.0h-4.0zM521.8 1814.7h4.0v4.0h-4.0zM526.4 1815.0h4.0v4.0h-4.0zM530.2 1795.0h4.0v4.0h-4.0zM530.2 1816.3h4.0v4.0h-4.0zM536.1 1795.1h4.0v4.0h-4.0zM536.1 1816.9h4.0v4.0h-4.0zM540.2 1794.1h4.0v4.0h-4.0zM540.2 1814.8h4.0v4.0h-4.0zM546.3 1794.4h4.0v4.0h-4.0zM546.3 1815.7h4.0v4.0h-4.0zM552.6 1794.0h4.0v4.0h-4.0zM552.6 1816.9h4.0v4.0h-4.0zM556.6 1797.5h4.0v4.0h-4.0zM556.6 1817.3h4.0v4.0h-4.0zM561.5 1815.2h4.0v4.0h-4.0zM565.4 1794.5h4.0v4.0h-4.0zM565.4 1815.3h4.0v4.0h-4.0zM571.6 1814.3h4.0v4.0h-4.0zM576.9 1794.1h4.0v4.0h-4.0zM576.9 1816.3h4.0v4.0h-4.0zM582.3 1795.7h4.0v4.0h-4.0zM582.3 1817.2h4.0v4.0h-4.0zM587.3 1794.1h4.0v4.0h-4.0zM587.3 1816.9h4.0v4.0h-4.0zM592.8 1795.9h4.0v4.0h-4.0zM592.8 1817.1h4.0v4.0h-4.0zM598.4 1797.4h4.0v4.0h-4.0zM598.4 1814.5h4.0v4.0h-4.0zM604.7 1816.1h4.0v4.0h-4.0zM609.9 1796.1h4.0v4.0h-4.0zM609.9 1816.2h4.0v4.0h-4.0zM614.3 1796.5h4.0v4.0h-4.0zM614.3 1815.5h4.0v4.0h-4.0zM620.6 1794.7h4.0v4.0h-4.0zM620.6 1815.3h4.0v4.0h-4.0zM626.9 1795.1h4.0v4.0h-4.0zM626.9 1814.6h4.0v4.0h-4.0zM632.1 1815.2h4.0v4.0h-4.0zM636.1 1794.4h4.0v4.0h-4.0zM636.1 1816.6h4.0v4.0h-4.0zM640.2 1797.3h4.0v4.0h-4.0zM640.2 1815.3h4.0v4.0h-4.0zM646.5 1815.1h4.0v4.0h-4.0zM652.8 1796.4h4.0v4.0h-4.0zM652.8 1814.4h4.0v4.0h-4.0zM657.1 1796.2h4.0v4.0h-4.0zM661.4 1794.3h4.0v4.0h-4.0zM661.4 1816.9h4.0v4.0h-4.0zM666.8 1796.4h4.0v4.0h-4.0zM666.8 1816.6h4.0v4.0h-4.0zM671.7 1795.2h4.0v4.0h-4.0zM671.7 1815.0h4.0v4.0h-4.0zM676.4 1815.0h4.0v4.0h-4.0zM681.7 1794.8h4.0v4.0h-4.0zM681.7 1816.9h4.0v4.0h-4.0z" fill="#555250"/>
<path d="M115.6 1793.3h4.0v4.0h-4.0zM136.1 1792.7h4.0v4.0h-4.0zM178.4 1820.2h4.0v4.0h-4.0zM197.9 1792.7h4.0v4.0h-4.0zM197.9 1819.0h4.0v4.0h-4.0zM231.4 1791.8h4.0v4.0h-4.0zM260.4 1791.7h4.0v4.0h-4.0zM269.3 1793.3h4.0v4.0h-4.0zM279.9 1793.0h4.0v4.0h-4.0zM279.9 1818.2h4.0v4.0h-4.0zM296.2 1820.1h4.0v4.0h-4.0zM302.8 1791.9h4.0v4.0h-4.0zM302.8 1818.7h4.0v4.0h-4.0zM317.7 1791.4h4.0v4.0h-4.0zM317.7 1818.6h4.0v4.0h-4.0zM335.3 1791.5h4.0v4.0h-4.0zM335.3 1820.1h4.0v4.0h-4.0zM345.8 1819.9h4.0v4.0h-4.0zM371.9 1791.3h4.0v4.0h-4.0zM382.3 1820.5h4.0v4.0h-4.0zM386.9 1819.1h4.0v4.0h-4.0zM403.1 1792.5h4.0v4.0h-4.0zM403.1 1818.5h4.0v4.0h-4.0zM418.6 1818.7h4.0v4.0h-4.0zM446.8 1818.5h4.0v4.0h-4.0zM460.0 1792.6h4.0v4.0h-4.0zM460.0 1819.6h4.0v4.0h-4.0zM471.9 1793.4h4.0v4.0h-4.0zM471.9 1818.9h4.0v4.0h-4.0zM487.9 1793.1h4.0v4.0h-4.0zM511.1 1792.1h4.0v4.0h-4.0zM516.7 1793.4h4.0v4.0h-4.0zM544.4 1818.0h4.0v4.0h-4.0zM561.9 1791.3h4.0v4.0h-4.0zM566.5 1791.9h4.0v4.0h-4.0zM574.3 1818.6h4.0v4.0h-4.0zM585.6 1819.5h4.0v4.0h-4.0zM590.6 1792.4h4.0v4.0h-4.0zM604.2 1819.2h4.0v4.0h-4.0zM625.1 1791.2h4.0v4.0h-4.0zM629.6 1791.0h4.0v4.0h-4.0zM629.6 1819.0h4.0v4.0h-4.0zM649.9 1793.3h4.0v4.0h-4.0zM660.3 1793.4h4.0v4.0h-4.0zM660.3 1820.3h4.0v4.0h-4.0zM675.1 1818.4h4.0v4.0h-4.0zM679.3 1820.4h4.0v4.0h-4.0z" fill="#8d8a88" opacity="0.3"/>
<path d="M114 1799h4.0v4.0h-4.0zM118 1799h4.0v4.0h-4.0zM126 1799h4.0v4.0h-4.0zM126 1803h4.0v4.0h-4.0zM130 1803h4.0v4.0h-4.0zM130 1811h4.0v4.0h-4.0zM138 1811h4.0v4.0h-4.0zM142 1811h4.0v4.0h-4.0zM146 1811h4.0v4.0h-4.0zM154 1811h4.0v4.0h-4.0zM158 1799h4.0v4.0h-4.0zM158 1803h4.0v4.0h-4.0zM170 1811h4.0v4.0h-4.0zM186 1799h4.0v4.0h-4.0zM198 1799h4.0v4.0h-4.0zM206 1807h4.0v4.0h-4.0zM222 1807h4.0v4.0h-4.0zM226 1807h4.0v4.0h-4.0zM238 1807h4.0v4.0h-4.0zM250 1803h4.0v4.0h-4.0zM250 1807h4.0v4.0h-4.0zM250 1811h4.0v4.0h-4.0zM254 1807h4.0v4.0h-4.0zM262 1803h4.0v4.0h-4.0zM266 1811h4.0v4.0h-4.0zM270 1811h4.0v4.0h-4.0zM278 1807h4.0v4.0h-4.0zM286 1811h4.0v4.0h-4.0zM294 1803h4.0v4.0h-4.0zM294 1807h4.0v4.0h-4.0zM306 1803h4.0v4.0h-4.0zM318 1811h4.0v4.0h-4.0zM322 1811h4.0v4.0h-4.0zM326 1803h4.0v4.0h-4.0zM330 1799h4.0v4.0h-4.0zM330 1803h4.0v4.0h-4.0zM334 1807h4.0v4.0h-4.0zM334 1811h4.0v4.0h-4.0zM342 1799h4.0v4.0h-4.0zM346 1811h4.0v4.0h-4.0zM354 1807h4.0v4.0h-4.0zM358 1811h4.0v4.0h-4.0zM366 1803h4.0v4.0h-4.0zM370 1803h4.0v4.0h-4.0zM374 1799h4.0v4.0h-4.0zM390 1811h4.0v4.0h-4.0zM394 1803h4.0v4.0h-4.0zM402 1807h4.0v4.0h-4.0zM422 1807h4.0v4.0h-4.0zM426 1807h4.0v4.0h-4.0zM442 1803h4.0v4.0h-4.0zM454 1807h4.0v4.0h-4.0zM458 1799h4.0v4.0h-4.0zM458 1803h4.0v4.0h-4.0zM470 1799h4.0v4.0h-4.0zM478 1799h4.0v4.0h-4.0zM486 1807h4.0v4.0h-4.0zM494 1799h4.0v4.0h-4.0zM518 1799h4.0v4.0h-4.0zM522 1799h4.0v4.0h-4.0zM530 1803h4.0v4.0h-4.0zM550 1807h4.0v4.0h-4.0zM554 1807h4.0v4.0h-4.0zM554 1811h4.0v4.0h-4.0zM558 1807h4.0v4.0h-4.0zM562 1811h4.0v4.0h-4.0zM566 1799h4.0v4.0h-4.0zM574 1807h4.0v4.0h-4.0zM574 1811h4.0v4.0h-4.0zM578 1803h4.0v4.0h-4.0zM590 1799h4.0v4.0h-4.0zM598 1799h4.0v4.0h-4.0zM602 1811h4.0v4.0h-4.0zM610 1803h4.0v4.0h-4.0zM618 1799h4.0v4.0h-4.0zM638 1807h4.0v4.0h-4.0zM642 1799h4.0v4.0h-4.0zM642 1803h4.0v4.0h-4.0zM650 1799h4.0v4.0h-4.0zM654 1811h4.0v4.0h-4.0zM658 1799h4.0v4.0h-4.0zM670 1811h4.0v4.0h-4.0zM674 1811h4.0v4.0h-4.0zM682 1807h4.0v4.0h-4.0z" fill="#8a8684" opacity="0.16"/>
<path d="M110 1799h4.0v4.0h-4.0zM110 1807h4.0v4.0h-4.0zM134 1811h4.0v4.0h-4.0zM138 1803h4.0v4.0h-4.0zM150 1811h4.0v4.0h-4.0zM178 1799h4.0v4.0h-4.0zM198 1803h4.0v4.0h-4.0zM214 1803h4.0v4.0h-4.0zM222 1811h4.0v4.0h-4.0zM230 1807h4.0v4.0h-4.0zM242 1799h4.0v4.0h-4.0zM254 1803h4.0v4.0h-4.0zM262 1799h4.0v4.0h-4.0zM274 1803h4.0v4.0h-4.0zM278 1811h4.0v4.0h-4.0zM282 1803h4.0v4.0h-4.0zM286 1803h4.0v4.0h-4.0zM286 1807h4.0v4.0h-4.0zM294 1799h4.0v4.0h-4.0zM298 1799h4.0v4.0h-4.0zM302 1799h4.0v4.0h-4.0zM310 1811h4.0v4.0h-4.0zM314 1799h4.0v4.0h-4.0zM314 1803h4.0v4.0h-4.0zM322 1807h4.0v4.0h-4.0zM330 1811h4.0v4.0h-4.0zM334 1799h4.0v4.0h-4.0zM342 1803h4.0v4.0h-4.0zM350 1807h4.0v4.0h-4.0zM350 1811h4.0v4.0h-4.0zM354 1803h4.0v4.0h-4.0zM362 1807h4.0v4.0h-4.0zM370 1799h4.0v4.0h-4.0zM378 1799h4.0v4.0h-4.0zM382 1799h4.0v4.0h-4.0zM386 1811h4.0v4.0h-4.0zM390 1799h4.0v4.0h-4.0zM394 1799h4.0v4.0h-4.0zM394 1811h4.0v4.0h-4.0zM398 1799h4.0v4.0h-4.0zM406 1799h4.0v4.0h-4.0zM410 1811h4.0v4.0h-4.0zM414 1803h4.0v4.0h-4.0zM418 1799h4.0v4.0h-4.0zM426 1799h4.0v4.0h-4.0zM434 1799h4.0v4.0h-4.0zM434 1807h4.0v4.0h-4.0zM438 1799h4.0v4.0h-4.0zM438 1803h4.0v4.0h-4.0zM442 1807h4.0v4.0h-4.0zM442 1811h4.0v4.0h-4.0zM474 1811h4.0v4.0h-4.0zM478 1811h4.0v4.0h-4.0zM482 1807h4.0v4.0h-4.0zM498 1803h4.0v4.0h-4.0zM502 1799h4.0v4.0h-4.0zM502 1811h4.0v4.0h-4.0zM506 1811h4.0v4.0h-4.0zM514 1799h4.0v4.0h-4.0zM514 1803h4.0v4.0h-4.0zM514 1807h4.0v4.0h-4.0zM518 1803h4.0v4.0h-4.0zM526 1811h4.0v4.0h-4.0zM530 1811h4.0v4.0h-4.0zM542 1799h4.0v4.0h-4.0zM550 1803h4.0v4.0h-4.0zM558 1799h4.0v4.0h-4.0zM558 1811h4.0v4.0h-4.0zM566 1811h4.0v4.0h-4.0zM578 1799h4.0v4.0h-4.0zM586 1803h4.0v4.0h-4.0zM590 1803h4.0v4.0h-4.0zM594 1803h4.0v4.0h-4.0zM598 1807h4.0v4.0h-4.0zM602 1807h4.0v4.0h-4.0zM606 1807h4.0v4.0h-4.0zM606 1811h4.0v4.0h-4.0zM618 1807h4.0v4.0h-4.0zM626 1799h4.0v4.0h-4.0zM630 1799h4.0v4.0h-4.0zM630 1803h4.0v4.0h-4.0zM642 1811h4.0v4.0h-4.0zM646 1811h4.0v4.0h-4.0zM662 1803h4.0v4.0h-4.0zM678 1807h4.0v4.0h-4.0z" fill="#0e0c0b" opacity="0.25"/>
<rect x="686.0" y="1784.5" width="367.5" height="20.0" fill="url(#gC)"/>
<path d="M686.0 1782.5h4.0v4.0h-4.0zM686.0 1802.4h4.0v4.0h-4.0zM689.9 1802.0h4.0v4.0h-4.0zM695.6 1783.6h4.0v4.0h-4.0zM695.6 1801.6h4.0v4.0h-4.0zM700.7 1801.6h4.0v4.0h-4.0zM706.4 1782.8h4.0v4.0h-4.0zM706.4 1801.8h4.0v4.0h-4.0zM712.8 1783.1h4.0v4.0h-4.0zM712.8 1804.1h4.0v4.0h-4.0zM718.9 1780.7h4.0v4.0h-4.0zM718.9 1802.0h4.0v4.0h-4.0zM723.8 1781.4h4.0v4.0h-4.0zM723.8 1801.7h4.0v4.0h-4.0zM730.1 1781.2h4.0v4.0h-4.0zM730.1 1801.9h4.0v4.0h-4.0zM734.4 1780.5h4.0v4.0h-4.0zM734.4 1804.0h4.0v4.0h-4.0zM738.9 1781.4h4.0v4.0h-4.0zM738.9 1801.7h4.0v4.0h-4.0zM748.9 1781.3h4.0v4.0h-4.0zM748.9 1804.1h4.0v4.0h-4.0zM755.1 1781.0h4.0v4.0h-4.0zM759.5 1782.7h4.0v4.0h-4.0zM759.5 1802.3h4.0v4.0h-4.0zM763.4 1780.8h4.0v4.0h-4.0zM763.4 1803.2h4.0v4.0h-4.0zM769.5 1783.1h4.0v4.0h-4.0zM775.3 1803.6h4.0v4.0h-4.0zM781.2 1781.7h4.0v4.0h-4.0zM781.2 1803.9h4.0v4.0h-4.0zM785.2 1782.8h4.0v4.0h-4.0zM795.8 1780.7h4.0v4.0h-4.0zM795.8 1803.4h4.0v4.0h-4.0zM801.2 1781.0h4.0v4.0h-4.0zM801.2 1802.6h4.0v4.0h-4.0zM805.8 1781.3h4.0v4.0h-4.0zM810.0 1783.1h4.0v4.0h-4.0zM810.0 1802.1h4.0v4.0h-4.0zM813.7 1783.2h4.0v4.0h-4.0zM813.7 1801.2h4.0v4.0h-4.0zM819.3 1782.4h4.0v4.0h-4.0zM819.3 1803.8h4.0v4.0h-4.0zM825.6 1781.8h4.0v4.0h-4.0zM830.5 1802.1h4.0v4.0h-4.0zM836.6 1783.6h4.0v4.0h-4.0zM836.6 1803.9h4.0v4.0h-4.0zM841.6 1782.5h4.0v4.0h-4.0zM847.1 1782.7h4.0v4.0h-4.0zM847.1 1804.4h4.0v4.0h-4.0zM852.6 1780.8h4.0v4.0h-4.0zM852.6 1803.1h4.0v4.0h-4.0zM857.4 1782.5h4.0v4.0h-4.0zM857.4 1802.8h4.0v4.0h-4.0zM863.3 1782.8h4.0v4.0h-4.0zM863.3 1803.6h4.0v4.0h-4.0zM869.2 1780.9h4.0v4.0h-4.0zM874.0 1781.5h4.0v4.0h-4.0zM878.2 1782.8h4.0v4.0h-4.0zM878.2 1801.7h4.0v4.0h-4.0zM883.3 1781.7h4.0v4.0h-4.0zM883.3 1804.3h4.0v4.0h-4.0zM889.7 1781.2h4.0v4.0h-4.0zM889.7 1804.2h4.0v4.0h-4.0zM894.8 1781.0h4.0v4.0h-4.0zM894.8 1804.2h4.0v4.0h-4.0zM899.0 1782.2h4.0v4.0h-4.0zM905.1 1804.3h4.0v4.0h-4.0zM910.3 1781.8h4.0v4.0h-4.0zM915.1 1783.1h4.0v4.0h-4.0zM915.1 1802.5h4.0v4.0h-4.0zM920.1 1783.7h4.0v4.0h-4.0zM920.1 1802.2h4.0v4.0h-4.0zM925.7 1783.2h4.0v4.0h-4.0zM925.7 1802.8h4.0v4.0h-4.0zM929.8 1780.8h4.0v4.0h-4.0zM929.8 1803.0h4.0v4.0h-4.0zM935.5 1781.5h4.0v4.0h-4.0zM935.5 1802.0h4.0v4.0h-4.0zM941.4 1804.3h4.0v4.0h-4.0zM946.2 1783.8h4.0v4.0h-4.0zM946.2 1803.4h4.0v4.0h-4.0zM950.2 1781.8h4.0v4.0h-4.0zM954.8 1783.1h4.0v4.0h-4.0zM954.8 1801.6h4.0v4.0h-4.0zM959.5 1782.9h4.0v4.0h-4.0zM959.5 1801.8h4.0v4.0h-4.0zM963.4 1782.9h4.0v4.0h-4.0zM963.4 1801.6h4.0v4.0h-4.0zM968.3 1780.6h4.0v4.0h-4.0zM968.3 1804.3h4.0v4.0h-4.0zM973.2 1781.9h4.0v4.0h-4.0zM973.2 1801.6h4.0v4.0h-4.0zM977.0 1780.6h4.0v4.0h-4.0zM977.0 1802.2h4.0v4.0h-4.0zM981.8 1781.6h4.0v4.0h-4.0zM981.8 1801.5h4.0v4.0h-4.0zM987.8 1784.0h4.0v4.0h-4.0zM993.5 1781.8h4.0v4.0h-4.0zM998.2 1783.0h4.0v4.0h-4.0zM998.2 1803.3h4.0v4.0h-4.0zM1003.9 1802.3h4.0v4.0h-4.0zM1009.9 1781.9h4.0v4.0h-4.0zM1009.9 1802.2h4.0v4.0h-4.0zM1016.1 1782.6h4.0v4.0h-4.0zM1016.1 1801.4h4.0v4.0h-4.0zM1022.2 1802.1h4.0v4.0h-4.0zM1027.2 1782.7h4.0v4.0h-4.0zM1031.7 1780.7h4.0v4.0h-4.0zM1031.7 1802.7h4.0v4.0h-4.0zM1036.3 1781.9h4.0v4.0h-4.0zM1036.3 1801.9h4.0v4.0h-4.0zM1040.9 1782.7h4.0v4.0h-4.0zM1046.0 1782.8h4.0v4.0h-4.0z" fill="#555250"/>
<path d="M686.0 1805.5h4.0v4.0h-4.0zM690.5 1805.6h4.0v4.0h-4.0zM694.9 1778.2h4.0v4.0h-4.0zM717.6 1777.7h4.0v4.0h-4.0zM730.2 1777.8h4.0v4.0h-4.0zM739.0 1805.1h4.0v4.0h-4.0zM744.0 1778.2h4.0v4.0h-4.0zM748.9 1779.5h4.0v4.0h-4.0zM776.1 1777.6h4.0v4.0h-4.0zM785.8 1779.6h4.0v4.0h-4.0zM785.8 1805.9h4.0v4.0h-4.0zM795.7 1778.7h4.0v4.0h-4.0zM837.4 1779.6h4.0v4.0h-4.0zM846.9 1778.0h4.0v4.0h-4.0zM855.0 1778.0h4.0v4.0h-4.0zM883.1 1805.9h4.0v4.0h-4.0zM909.1 1778.1h4.0v4.0h-4.0zM909.1 1806.5h4.0v4.0h-4.0zM920.5 1807.3h4.0v4.0h-4.0zM930.6 1778.1h4.0v4.0h-4.0zM953.3 1778.1h4.0v4.0h-4.0zM953.3 1805.7h4.0v4.0h-4.0zM968.0 1778.2h4.0v4.0h-4.0zM978.5 1805.9h4.0v4.0h-4.0zM1019.5 1806.7h4.0v4.0h-4.0zM1033.9 1778.4h4.0v4.0h-4.0zM1039.9 1806.2h4.0v4.0h-4.0z" fill="#8d8a88" opacity="0.3"/>
<path d="M710 1790h4.0v4.0h-4.0zM742 1798h4.0v4.0h-4.0zM762 1798h4.0v4.0h-4.0zM766 1786h4.0v4.0h-4.0zM770 1786h4.0v4.0h-4.0zM778 1786h4.0v4.0h-4.0zM778 1790h4.0v4.0h-4.0zM782 1794h4.0v4.0h-4.0zM786 1798h4.0v4.0h-4.0zM790 1798h4.0v4.0h-4.0zM802 1786h4.0v4.0h-4.0zM802 1798h4.0v4.0h-4.0zM830 1798h4.0v4.0h-4.0zM834 1786h4.0v4.0h-4.0zM838 1798h4.0v4.0h-4.0zM854 1786h4.0v4.0h-4.0zM854 1790h4.0v4.0h-4.0zM854 1798h4.0v4.0h-4.0zM870 1790h4.0v4.0h-4.0zM874 1798h4.0v4.0h-4.0zM878 1794h4.0v4.0h-4.0zM886 1794h4.0v4.0h-4.0zM890 1786h4.0v4.0h-4.0zM894 1786h4.0v4.0h-4.0zM902 1798h4.0v4.0h-4.0zM906 1798h4.0v4.0h-4.0zM926 1790h4.0v4.0h-4.0zM930 1786h4.0v4.0h-4.0zM930 1794h4.0v4.0h-4.0zM942 1786h4.0v4.0h-4.0zM942 1790h4.0v4.0h-4.0zM950 1786h4.0v4.0h-4.0zM950 1798h4.0v4.0h-4.0zM954 1786h4.0v4.0h-4.0zM1010 1794h4.0v4.0h-4.0zM1014 1786h4.0v4.0h-4.0zM1022 1786h4.0v4.0h-4.0zM1046 1798h4.0v4.0h-4.0z" fill="#8a8684" opacity="0.16"/>
<path d="M686 1798h4.0v4.0h-4.0zM690 1786h4.0v4.0h-4.0zM690 1794h4.0v4.0h-4.0zM690 1798h4.0v4.0h-4.0zM694 1794h4.0v4.0h-4.0zM702 1786h4.0v4.0h-4.0zM714 1794h4.0v4.0h-4.0zM718 1798h4.0v4.0h-4.0zM722 1798h4.0v4.0h-4.0zM726 1786h4.0v4.0h-4.0zM734 1786h4.0v4.0h-4.0zM738 1790h4.0v4.0h-4.0zM746 1786h4.0v4.0h-4.0zM746 1790h4.0v4.0h-4.0zM766 1794h4.0v4.0h-4.0zM790 1786h4.0v4.0h-4.0zM790 1790h4.0v4.0h-4.0zM806 1794h4.0v4.0h-4.0zM814 1794h4.0v4.0h-4.0zM822 1786h4.0v4.0h-4.0zM822 1790h4.0v4.0h-4.0zM822 1794h4.0v4.0h-4.0zM826 1790h4.0v4.0h-4.0zM834 1794h4.0v4.0h-4.0zM846 1786h4.0v4.0h-4.0zM850 1798h4.0v4.0h-4.0zM862 1794h4.0v4.0h-4.0zM870 1786h4.0v4.0h-4.0zM870 1794h4.0v4.0h-4.0zM874 1790h4.0v4.0h-4.0zM882 1794h4.0v4.0h-4.0zM890 1790h4.0v4.0h-4.0zM890 1798h4.0v4.0h-4.0zM898 1794h4.0v4.0h-4.0zM902 1794h4.0v4.0h-4.0zM910 1794h4.0v4.0h-4.0zM918 1794h4.0v4.0h-4.0zM922 1786h4.0v4.0h-4.0zM946 1790h4.0v4.0h-4.0zM966 1790h4.0v4.0h-4.0zM974 1786h4.0v4.0h-4.0zM978 1794h4.0v4.0h-4.0zM994 1798h4.0v4.0h-4.0zM1002 1794h4.0v4.0h-4.0zM1002 1798h4.0v4.0h-4.0zM1018 1794h4.0v4.0h-4.0zM1034 1798h4.0v4.0h-4.0zM1038 1786h4.0v4.0h-4.0zM1046 1786h4.0v4.0h-4.0z" fill="#0e0c0b" opacity="0.25"/>
<rect x="1053.5" y="1792.0" width="375.1" height="19.0" fill="url(#gC)"/>
<path d="M1053.5 1808.9h4.0v4.0h-4.0zM1058.8 1791.4h4.0v4.0h-4.0zM1058.8 1808.8h4.0v4.0h-4.0zM1062.4 1788.8h4.0v4.0h-4.0zM1062.4 1809.9h4.0v4.0h-4.0zM1067.7 1791.4h4.0v4.0h-4.0zM1067.7 1809.6h4.0v4.0h-4.0zM1072.2 1788.5h4.0v4.0h-4.0zM1076.4 1789.5h4.0v4.0h-4.0zM1076.4 1807.6h4.0v4.0h-4.0zM1080.9 1789.4h4.0v4.0h-4.0zM1080.9 1807.9h4.0v4.0h-4.0zM1085.1 1790.0h4.0v4.0h-4.0zM1085.1 1810.7h4.0v4.0h-4.0zM1089.1 1810.5h4.0v4.0h-4.0zM1093.3 1790.2h4.0v4.0h-4.0zM1093.3 1810.3h4.0v4.0h-4.0zM1099.2 1788.8h4.0v4.0h-4.0zM1099.2 1811.0h4.0v4.0h-4.0zM1103.0 1790.7h4.0v4.0h-4.0zM1103.0 1810.2h4.0v4.0h-4.0zM1108.9 1790.1h4.0v4.0h-4.0zM1108.9 1807.9h4.0v4.0h-4.0zM1113.2 1790.0h4.0v4.0h-4.0zM1117.1 1790.8h4.0v4.0h-4.0zM1117.1 1807.8h4.0v4.0h-4.0zM1121.0 1790.0h4.0v4.0h-4.0zM1121.0 1808.5h4.0v4.0h-4.0zM1126.5 1788.1h4.0v4.0h-4.0zM1126.5 1809.3h4.0v4.0h-4.0zM1131.5 1788.5h4.0v4.0h-4.0zM1131.5 1810.6h4.0v4.0h-4.0zM1136.1 1789.3h4.0v4.0h-4.0zM1136.1 1808.5h4.0v4.0h-4.0zM1139.9 1807.9h4.0v4.0h-4.0zM1145.4 1790.4h4.0v4.0h-4.0zM1145.4 1810.5h4.0v4.0h-4.0zM1149.9 1788.2h4.0v4.0h-4.0zM1149.9 1808.9h4.0v4.0h-4.0zM1154.0 1789.2h4.0v4.0h-4.0zM1154.0 1808.9h4.0v4.0h-4.0zM1158.2 1789.9h4.0v4.0h-4.0zM1162.9 1791.4h4.0v4.0h-4.0zM1162.9 1810.9h4.0v4.0h-4.0zM1168.4 1789.8h4.0v4.0h-4.0zM1168.4 1808.2h4.0v4.0h-4.0zM1172.5 1789.1h4.0v4.0h-4.0zM1172.5 1809.8h4.0v4.0h-4.0zM1176.5 1790.9h4.0v4.0h-4.0zM1176.5 1808.6h4.0v4.0h-4.0zM1181.6 1789.8h4.0v4.0h-4.0zM1181.6 1808.0h4.0v4.0h-4.0zM1186.1 1789.6h4.0v4.0h-4.0zM1186.1 1810.2h4.0v4.0h-4.0zM1191.3 1790.0h4.0v4.0h-4.0zM1196.4 1790.2h4.0v4.0h-4.0zM1196.4 1810.9h4.0v4.0h-4.0zM1202.4 1791.1h4.0v4.0h-4.0zM1202.4 1807.6h4.0v4.0h-4.0zM1208.6 1808.4h4.0v4.0h-4.0zM1214.5 1788.6h4.0v4.0h-4.0zM1214.5 1807.6h4.0v4.0h-4.0zM1220.6 1788.6h4.0v4.0h-4.0zM1220.6 1809.4h4.0v4.0h-4.0zM1226.6 1788.4h4.0v4.0h-4.0zM1226.6 1807.6h4.0v4.0h-4.0zM1231.2 1791.2h4.0v4.0h-4.0zM1231.2 1807.9h4.0v4.0h-4.0zM1235.2 1790.5h4.0v4.0h-4.0zM1246.2 1790.5h4.0v4.0h-4.0zM1252.1 1790.7h4.0v4.0h-4.0zM1252.1 1810.7h4.0v4.0h-4.0zM1257.2 1788.5h4.0v4.0h-4.0zM1257.2 1809.9h4.0v4.0h-4.0zM1262.1 1789.9h4.0v4.0h-4.0zM1262.1 1810.8h4.0v4.0h-4.0zM1266.5 1788.6h4.0v4.0h-4.0zM1266.5 1809.9h4.0v4.0h-4.0zM1271.2 1790.7h4.0v4.0h-4.0zM1275.8 1789.7h4.0v4.0h-4.0zM1275.8 1810.1h4.0v4.0h-4.0zM1281.5 1808.2h4.0v4.0h-4.0zM1286.1 1789.2h4.0v4.0h-4.0zM1286.1 1809.3h4.0v4.0h-4.0zM1290.1 1809.3h4.0v4.0h-4.0zM1295.9 1789.0h4.0v4.0h-4.0zM1295.9 1810.3h4.0v4.0h-4.0zM1299.8 1789.3h4.0v4.0h-4.0zM1299.8 1808.8h4.0v4.0h-4.0zM1305.0 1790.0h4.0v4.0h-4.0zM1305.0 1810.3h4.0v4.0h-4.0zM1309.3 1809.6h4.0v4.0h-4.0zM1314.7 1788.8h4.0v4.0h-4.0zM1314.7 1810.5h4.0v4.0h-4.0zM1320.5 1788.6h4.0v4.0h-4.0zM1320.5 1809.9h4.0v4.0h-4.0zM1326.8 1791.1h4.0v4.0h-4.0zM1326.8 1809.3h4.0v4.0h-4.0zM1330.8 1788.5h4.0v4.0h-4.0zM1330.8 1808.0h4.0v4.0h-4.0zM1334.9 1790.8h4.0v4.0h-4.0zM1334.9 1809.4h4.0v4.0h-4.0zM1339.7 1788.6h4.0v4.0h-4.0zM1339.7 1810.8h4.0v4.0h-4.0zM1343.9 1788.8h4.0v4.0h-4.0zM1343.9 1809.4h4.0v4.0h-4.0zM1348.1 1790.4h4.0v4.0h-4.0zM1348.1 1808.3h4.0v4.0h-4.0zM1353.3 1790.2h4.0v4.0h-4.0zM1353.3 1807.7h4.0v4.0h-4.0zM1358.7 1791.0h4.0v4.0h-4.0zM1358.7 1810.1h4.0v4.0h-4.0zM1366.3 1791.2h4.0v4.0h-4.0zM1366.3 1807.8h4.0v4.0h-4.0zM1371.3 1790.4h4.0v4.0h-4.0zM1371.3 1808.8h4.0v4.0h-4.0zM1377.1 1791.1h4.0v4.0h-4.0zM1377.1 1807.5h4.0v4.0h-4.0zM1381.6 1789.1h4.0v4.0h-4.0zM1381.6 1811.0h4.0v4.0h-4.0zM1385.8 1788.9h4.0v4.0h-4.0zM1385.8 1810.8h4.0v4.0h-4.0zM1390.5 1791.2h4.0v4.0h-4.0zM1395.5 1790.0h4.0v4.0h-4.0zM1395.5 1810.4h4.0v4.0h-4.0zM1400.5 1790.1h4.0v4.0h-4.0zM1405.2 1789.5h4.0v4.0h-4.0zM1405.2 1809.5h4.0v4.0h-4.0zM1409.5 1788.5h4.0v4.0h-4.0zM1409.5 1808.8h4.0v4.0h-4.0zM1415.6 1809.7h4.0v4.0h-4.0zM1420.9 1808.0h4.0v4.0h-4.0z" fill="#555250"/>
<path d="M1068.4 1786.4h4.0v4.0h-4.0zM1068.4 1813.0h4.0v4.0h-4.0zM1075.1 1785.8h4.0v4.0h-4.0zM1075.1 1813.5h4.0v4.0h-4.0zM1086.5 1813.8h4.0v4.0h-4.0zM1103.4 1786.2h4.0v4.0h-4.0zM1103.4 1813.9h4.0v4.0h-4.0zM1110.5 1813.9h4.0v4.0h-4.0zM1124.2 1811.8h4.0v4.0h-4.0zM1140.4 1786.2h4.0v4.0h-4.0zM1151.9 1812.9h4.0v4.0h-4.0zM1159.2 1786.4h4.0v4.0h-4.0zM1170.1 1812.3h4.0v4.0h-4.0zM1179.9 1786.6h4.0v4.0h-4.0zM1179.9 1812.7h4.0v4.0h-4.0zM1184.0 1786.9h4.0v4.0h-4.0zM1184.0 1811.7h4.0v4.0h-4.0zM1189.6 1813.6h4.0v4.0h-4.0zM1196.9 1786.9h4.0v4.0h-4.0zM1201.3 1813.9h4.0v4.0h-4.0zM1213.3 1785.8h4.0v4.0h-4.0zM1223.1 1786.3h4.0v4.0h-4.0zM1223.1 1812.6h4.0v4.0h-4.0zM1229.4 1812.2h4.0v4.0h-4.0zM1238.5 1785.5h4.0v4.0h-4.0zM1244.3 1786.2h4.0v4.0h-4.0zM1265.2 1785.0h4.0v4.0h-4.0zM1277.1 1813.5h4.0v4.0h-4.0zM1286.0 1785.0h4.0v4.0h-4.0zM1296.5 1813.7h4.0v4.0h-4.0zM1301.9 1786.0h4.0v4.0h-4.0zM1301.9 1812.7h4.0v4.0h-4.0zM1311.6 1785.8h4.0v4.0h-4.0zM1311.6 1812.7h4.0v4.0h-4.0zM1320.8 1812.0h4.0v4.0h-4.0zM1356.8 1785.1h4.0v4.0h-4.0zM1377.8 1785.6h4.0v4.0h-4.0zM1418.0 1786.1h4.0v4.0h-4.0zM1418.0 1812.3h4.0v4.0h-4.0zM1422.8 1785.7h4.0v4.0h-4.0zM1422.8 1813.6h4.0v4.0h-4.0z" fill="#8d8a88" opacity="0.3"/>
<path d="M1058 1793h4.0v4.0h-4.0zM1058 1805h4.0v4.0h-4.0zM1062 1801h4.0v4.0h-4.0zM1066 1801h4.0v4.0h-4.0zM1066 1805h4.0v4.0h-4.0zM1078 1805h4.0v4.0h-4.0zM1102 1797h4.0v4.0h-4.0zM1114 1797h4.0v4.0h-4.0zM1130 1805h4.0v4.0h-4.0zM1134 1797h4.0v4.0h-4.0zM1154 1793h4.0v4.0h-4.0zM1154 1797h4.0v4.0h-4.0zM1154 1801h4.0v4.0h-4.0zM1162 1801h4.0v4.0h-4.0zM1166 1801h4.0v4.0h-4.0zM1170 1805h4.0v4.0h-4.0zM1174 1805h4.0v4.0h-4.0zM1182 1793h4.0v4.0h-4.0zM1202 1793h4.0v4.0h-4.0zM1210 1805h4.0v4.0h-4.0zM1214 1801h4.0v4.0h-4.0zM1218 1793h4.0v4.0h-4.0zM1238 1805h4.0v4.0h-4.0zM1250 1793h4.0v4.0h-4.0zM1266 1797h4.0v4.0h-4.0zM1270 1793h4.0v4.0h-4.0zM1294 1805h4.0v4.0h-4.0zM1302 1797h4.0v4.0h-4.0zM1306 1797h4.0v4.0h-4.0zM1306 1805h4.0v4.0h-4.0zM1310 1797h4.0v4.0h-4.0zM1314 1805h4.0v4.0h-4.0zM1342 1801h4.0v4.0h-4.0zM1374 1801h4.0v4.0h-4.0zM1386 1801h4.0v4.0h-4.0zM1398 1793h4.0v4.0h-4.0zM1398 1797h4.0v4.0h-4.0zM1418 1797h4.0v4.0h-4.0z" fill="#8a8684" opacity="0.16"/>
<path d="M1066 1793h4.0v4.0h-4.0zM1078 1797h4.0v4.0h-4.0zM1086 1797h4.0v4.0h-4.0zM1090 1797h4.0v4.0h-4.0zM1118 1805h4.0v4.0h-4.0zM1122 1793h4.0v4.0h-4.0zM1130 1793h4.0v4.0h-4.0zM1130 1801h4.0v4.0h-4.0zM1142 1797h4.0v4.0h-4.0zM1150 1801h4.0v4.0h-4.0zM1218 1805h4.0v4.0h-4.0zM1222 1797h4.0v4.0h-4.0zM1234 1805h4.0v4.0h-4.0zM1242 1805h4.0v4.0h-4.0zM1250 1801h4.0v4.0h-4.0zM1250 1805h4.0v4.0h-4.0zM1254 1805h4.0v4.0h-4.0zM1258 1801h4.0v4.0h-4.0zM1262 1797h4.0v4.0h-4.0zM1266 1793h4.0v4.0h-4.0zM1286 1797h4.0v4.0h-4.0zM1290 1805h4.0v4.0h-4.0zM1302 1793h4.0v4.0h-4.0zM1306 1793h4.0v4.0h-4.0zM1322 1805h4.0v4.0h-4.0zM1330 1793h4.0v4.0h-4.0zM1346 1797h4.0v4.0h-4.0zM1354 1797h4.0v4.0h-4.0zM1370 1793h4.0v4.0h-4.0zM1378 1805h4.0v4.0h-4.0zM1382 1805h4.0v4.0h-4.0zM1390 1793h4.0v4.0h-4.0zM1406 1797h4.0v4.0h-4.0zM1418 1793h4.0v4.0h-4.0zM1418 1801h4.0v4.0h-4.0zM1422 1801h4.0v4.0h-4.0z" fill="#0e0c0b" opacity="0.25"/>
<line x1="336" x2="336" y1="1400.2" y2="1845.4" stroke="#e8e67a" stroke-width="2.6" stroke-dasharray="7 4" stroke-opacity="0.85"/>
<line x1="686" x2="686" y1="1400.2" y2="1845.4" stroke="#e8e67a" stroke-width="2.6" stroke-dasharray="7 4" stroke-opacity="0.85"/>
<line x1="1053.5" x2="1053.5" y1="1400.2" y2="1845.4" stroke="#e8e67a" stroke-width="2.6" stroke-dasharray="7 4" stroke-opacity="0.85"/>
<path d="M687.8 1439.1h5v5h-5zM705.7 1447.7h5v5h-5zM750.3 1444.0h5v5h-5zM832.6 1442.2h5v5h-5zM865.6 1456.5h5v5h-5zM857.6 1469.1h5v5h-5zM865.6 1480.0h5v5h-5zM775.3 1480.0h5v5h-5zM686.3 1487.3h5v5h-5zM693.3 1492.6h5v5h-5zM689.5 1499.7h5v5h-5zM686.3 1505.2h5v5h-5zM721.4 1496.2h5v5h-5zM728.9 1498.0h5v5h-5zM753.7 1489.0h5v5h-5zM757.4 1499.7h5v5h-5zM764.5 1496.2h5v5h-5zM771.8 1499.7h5v5h-5zM790.1 1498.0h5v5h-5zM791.9 1499.7h5v5h-5zM802.7 1492.6h5v5h-5zM804.1 1499.7h5v5h-5zM839.9 1494.4h5v5h-5zM853.9 1496.2h5v5h-5zM861.0 1503.3h5v5h-5zM857.6 1507.0h5v5h-5zM855.8 1511.8h5v5h-5zM848.7 1512.1h5v5h-5zM709.4 1508.7h5v5h-5zM716.2 1514.0h5v5h-5zM728.6 1514.0h5v5h-5zM734.3 1510.5h5v5h-5zM736.1 1515.9h5v5h-5zM750.3 1506.9h5v5h-5zM764.4 1510.5h5v5h-5zM773.2 1514.0h5v5h-5zM773.9 1517.3h5v5h-5zM775.3 1519.4h5v5h-5zM789.7 1510.5h5v5h-5zM820.1 1514.0h5v5h-5zM834.4 1517.7h5v5h-5zM705.7 1522.9h5v5h-5zM745.1 1521.2h5v5h-5zM753.7 1519.4h5v5h-5zM813.0 1521.2h5v5h-5zM820.1 1526.5h5v5h-5zM689.5 1531.9h5v5h-5zM714.4 1531.9h5v5h-5zM763.0 1535.4h5v5h-5zM846.9 1539.0h5v5h-5zM686.3 1549.7h5v5h-5zM861.0 1549.7h5v5h-5zM816.7 1556.9h5v5h-5zM771.8 1602.0h5v5h-5zM1000.3 1426.3h5v5h-5zM1030.7 1442.2h5v5h-5zM877.4 1445.9h5v5h-5zM866.7 1456.6h5v5h-5zM925.2 1470.9h5v5h-5zM994.8 1462.0h5v5h-5zM1004.0 1463.8h5v5h-5zM1048.3 1467.5h5v5h-5zM921.7 1483.4h5v5h-5zM950.2 1483.4h5v5h-5zM959.4 1483.4h5v5h-5zM985.8 1480.0h5v5h-5zM1002.0 1485.5h5v5h-5zM993.1 1490.7h5v5h-5zM1041.4 1483.4h5v5h-5zM941.5 1496.2h5v5h-5zM950.2 1496.2h5v5h-5zM964.6 1501.5h5v5h-5zM885.9 1503.3h5v5h-5zM904.2 1503.3h5v5h-5zM907.0 1503.3h5v5h-5zM909.7 1503.3h5v5h-5zM1013.3 1503.3h5v5h-5zM1016.0 1503.3h5v5h-5zM1018.8 1503.3h5v5h-5zM1039.7 1503.3h5v5h-5zM896.9 1512.1h5v5h-5zM913.1 1512.1h5v5h-5zM918.6 1510.5h5v5h-5zM936.0 1508.7h5v5h-5zM954.0 1510.5h5v5h-5zM970.1 1510.5h5v5h-5zM968.0 1513.9h5v5h-5zM1009.2 1510.5h5v5h-5zM891.5 1517.6h5v5h-5zM871.6 1521.2h5v5h-5zM921.7 1522.9h5v5h-5zM930.7 1521.2h5v5h-5zM977.2 1519.4h5v5h-5zM1019.9 1517.6h5v5h-5zM880.8 1530.1h5v5h-5zM888.0 1533.7h5v5h-5zM900.5 1539.0h5v5h-5zM912.8 1530.1h5v5h-5zM930.7 1531.9h5v5h-5zM930.7 1533.8h5v5h-5zM938.1 1530.1h5v5h-5zM1007.5 1531.9h5v5h-5zM1025.2 1540.8h5v5h-5zM868.5 1546.1h5v5h-5zM1004.0 1551.5h5v5h-5zM1041.4 1548.9h5v5h-5zM1044.2 1548.2h5v5h-5zM110.8 1689.3h5v5h-5zM117.8 1741.2h5v5h-5zM144.3 1701.6h5v5h-5zM144.3 1709.2h5v5h-5zM183.9 1683.6h5v5h-5zM219.5 1702.1h5v5h-5zM219.5 1726.7h5v5h-5zM223.5 1743.2h5v5h-5zM282.1 1712.7h5v5h-5zM295.1 1757.3h5v5h-5zM328.2 1696.1h5v5h-5z" fill="#3c62a8"/>
<path d="M185.4 1780.3h5v5h-5zM473.5 1782.3h5v5h-5zM332.2 1739.2h5v5h-5z" fill="#646864"/>
<line x1="108.5" x2="1426.4" y1="1765.5" y2="1765.5" stroke="#c04eb1" stroke-width="4.6"/>
<text x="1382.86" y="1762.20" font-size="16.00" textLength="41.37" lengthAdjust="spacingAndGlyphs" fill="#333" >1101</text>
<rect x="108.5" y="1398.2" width="1321.1" height="449.20000000000005" fill="none" stroke="#111" stroke-width="2"/>
<path d="M100.4 1847.4H117.3M100.4 1772.5H117.3M1421 1772.5H1429.6M100.4 1697.7H117.3M1421 1697.7H1429.6M100.4 1622.8H117.3M1421 1622.8H1429.6M100.4 1547.9H117.3M1421 1547.9H1429.6M100.4 1473.1H117.3M1421 1473.1H1429.6M100.4 1398.2H117.3M108.5 1838.7V1857.8M295.3 1838.7V1857.8M295.3 1398.2V1407.2M482.1 1838.7V1857.8M482.1 1398.2V1407.2M668.9 1838.7V1857.8M668.9 1398.2V1407.2M855.6 1838.7V1857.8M855.6 1398.2V1407.2M1042.4 1838.7V1857.8M1042.4 1398.2V1407.2M1229.2 1838.7V1857.8M1229.2 1398.2V1407.2M1416.0 1838.7V1857.8M1416.0 1398.2V1407.2" stroke="#111" stroke-width="2" fill="none"/>
<text x="56.51" y="1855.20" font-size="21.80" textLength="12.35" lengthAdjust="spacingAndGlyphs" fill="#2a2522" stroke="#2a2522" stroke-width="0.4">0</text>
<text x="37.74" y="1780.33" font-size="21.80" textLength="49.13" lengthAdjust="spacingAndGlyphs" fill="#2a2522" stroke="#2a2522" stroke-width="0.4">1000</text>
<text x="38.31" y="1705.47" font-size="21.80" textLength="48.56" lengthAdjust="spacingAndGlyphs" fill="#2a2522" stroke="#2a2522" stroke-width="0.4">2000</text>
<text x="38.59" y="1630.60" font-size="21.80" textLength="48.27" lengthAdjust="spacingAndGlyphs" fill="#2a2522" stroke="#2a2522" stroke-width="0.4">3000</text>
<text x="38.92" y="1555.73" font-size="21.80" textLength="47.94" lengthAdjust="spacingAndGlyphs" fill="#2a2522" stroke="#2a2522" stroke-width="0.4">4000</text>
<text x="38.53" y="1480.87" font-size="21.80" textLength="48.33" lengthAdjust="spacingAndGlyphs" fill="#2a2522" stroke="#2a2522" stroke-width="0.4">5000</text>
<text x="38.31" y="1406.00" font-size="21.80" textLength="48.56" lengthAdjust="spacingAndGlyphs" fill="#2a2522" stroke="#2a2522" stroke-width="0.4">6000</text>
<text x="101.26" y="1894.80" font-size="26.60" font-weight="bold" textLength="14.52" lengthAdjust="spacingAndGlyphs" fill="#1e1a18" >0</text>
<text x="264.71" y="1894.80" font-size="26.60" font-weight="bold" textLength="61.50" lengthAdjust="spacingAndGlyphs" fill="#1e1a18" >5000</text>
<text x="442.66" y="1894.80" font-size="26.60" font-weight="bold" textLength="78.21" lengthAdjust="spacingAndGlyphs" fill="#1e1a18" >10000</text>
<text x="629.45" y="1894.80" font-size="26.60" font-weight="bold" textLength="78.21" lengthAdjust="spacingAndGlyphs" fill="#1e1a18" >15000</text>
<text x="817.02" y="1894.80" font-size="26.60" font-weight="bold" textLength="77.41" lengthAdjust="spacingAndGlyphs" fill="#1e1a18" >20000</text>
<text x="1003.80" y="1894.80" font-size="26.60" font-weight="bold" textLength="77.41" lengthAdjust="spacingAndGlyphs" fill="#1e1a18" >25000</text>
<text x="1190.94" y="1894.80" font-size="26.60" font-weight="bold" textLength="77.06" lengthAdjust="spacingAndGlyphs" fill="#1e1a18" >30000</text>
<text x="1377.73" y="1894.80" font-size="26.60" font-weight="bold" textLength="77.06" lengthAdjust="spacingAndGlyphs" fill="#1e1a18" >35000</text>
<text x="207.37" y="1393.70" font-size="16.00" textLength="30.75" lengthAdjust="spacingAndGlyphs" fill="#151515" stroke="#151515" stroke-width="0.7">E05</text>
<text x="494.70" y="1393.70" font-size="16.00" textLength="31.23" lengthAdjust="spacingAndGlyphs" fill="#151515" stroke="#151515" stroke-width="0.7">F05</text>
<text x="854.75" y="1393.70" font-size="16.00" textLength="32.13" lengthAdjust="spacingAndGlyphs" fill="#151515" stroke="#151515" stroke-width="0.7">G05</text>
<text x="1225.65" y="1393.70" font-size="16.00" textLength="32.29" lengthAdjust="spacingAndGlyphs" fill="#151515" stroke="#151515" stroke-width="0.7">H05</text>
</svg></body></html>
